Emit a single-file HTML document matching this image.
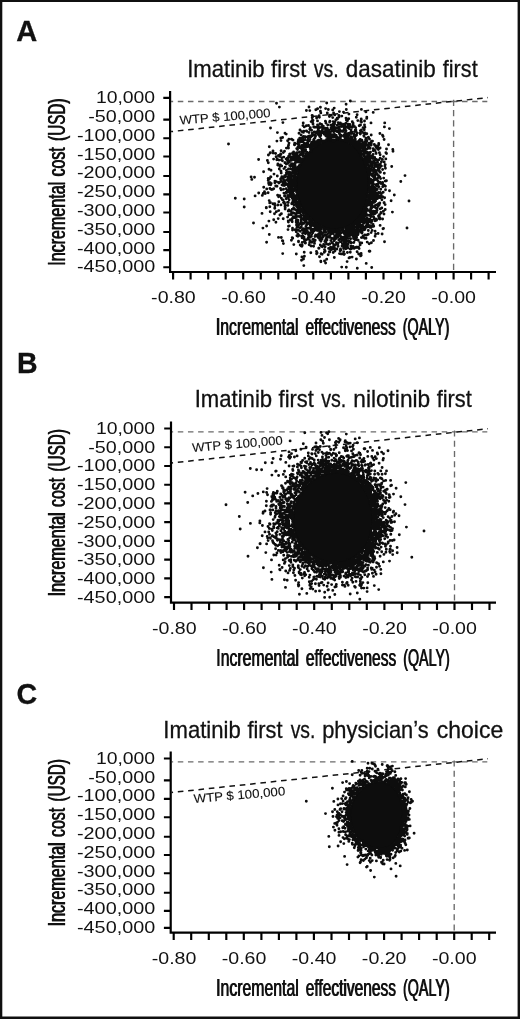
<!DOCTYPE html>
<html><head><meta charset="utf-8"><title>Figure</title>
<style>html,body{margin:0;padding:0;background:#fff}svg{display:block;filter:grayscale(1)}text{fill:#111}</style></head><body>
<svg width="520" height="1019" viewBox="0 0 520 1019">
<rect x="0" y="0" width="520" height="1019" fill="#fff"/>
<text x="16.28" y="41.3" font-family="Liberation Sans, sans-serif" font-weight="bold" font-size="29.4" textLength="20.99" lengthAdjust="spacingAndGlyphs" stroke="#111" stroke-width="0.3">A</text>
<text x="187.16" y="77.3" font-family="Liberation Sans, sans-serif" font-size="23.2" textLength="77.47" lengthAdjust="spacingAndGlyphs" stroke="#111" stroke-width="0.3">Imatinib</text>
<text x="271.09" y="77.3" font-family="Liberation Sans, sans-serif" font-size="23.2" textLength="35.27" lengthAdjust="spacingAndGlyphs" stroke="#111" stroke-width="0.3">first</text>
<text x="313.73" y="77.3" font-family="Liberation Sans, sans-serif" font-size="23.2" textLength="25.06" lengthAdjust="spacingAndGlyphs" stroke="#111" stroke-width="0.3">vs.</text>
<text x="345.86" y="77.3" font-family="Liberation Sans, sans-serif" font-size="23.2" textLength="89.89" lengthAdjust="spacingAndGlyphs" stroke="#111" stroke-width="0.3">dasatinib</text>
<text x="442.79" y="77.3" font-family="Liberation Sans, sans-serif" font-size="23.2" textLength="34.87" lengthAdjust="spacingAndGlyphs" stroke="#111" stroke-width="0.3">first</text>
<path d="M171.1 101.5H487.3" stroke="#6a6a6a" stroke-width="1.35" stroke-dasharray="5.5 4.65" stroke-dashoffset="3.45" fill="none"/>
<path d="M453.6 99.8V271" stroke="#6a6a6a" stroke-width="1.35" stroke-dasharray="6.1 4.15" fill="none"/>
<path d="M171.1 131.6L488 97.6" stroke="#111" stroke-width="1.5" stroke-dasharray="5.6 4.78" stroke-dashoffset="3.62" fill="none"/>
<text transform="translate(180 124.6) rotate(-4.81)" x="-0.06" y="0" font-family="Liberation Sans, sans-serif" font-size="12.4" textLength="91.29" lengthAdjust="spacingAndGlyphs" stroke="#111" stroke-width="0.1">WTP $ 100,000</text>
<path d="M368.4 184.5L368.3 188.4L368 192.3L367.4 196.1L366.6 199.8L365.6 203.4L364.4 206.9L362.9 210.2L361.3 213.3L359.4 216.2L357.4 218.8L355.2 221.2L352.8 223.3L350.2 225.1L347.5 226.6L344.7 227.8L341.7 228.6L338.7 229.1L335.6 229.3L332.4 229.1L329.2 228.6L326 227.8L322.8 226.6L319.7 225.1L316.7 223.3L313.8 221.2L311.1 218.8L308.5 216.2L306.1 213.3L303.9 210.2L301.9 206.9L300.3 203.4L298.9 199.8L297.8 196.1L297 192.3L296.5 188.4L296.3 184.5L296.5 180.6L297 176.7L297.8 172.9L298.9 169.2L300.3 165.6L301.9 162.1L303.9 158.8L306.1 155.7L308.5 152.8L311.1 150.2L313.8 147.8L316.7 145.7L319.7 143.9L322.8 142.4L326 141.2L329.2 140.4L332.4 139.9L335.6 139.7L338.7 139.9L341.7 140.4L344.7 141.2L347.5 142.4L350.2 143.9L352.8 145.7L355.2 147.8L357.4 150.2L359.4 152.8L361.3 155.7L362.9 158.8L364.4 162.1L365.6 165.6L366.6 169.2L367.4 172.9L368 176.7L368.3 180.6Z" fill="#0d0d0d" stroke="#0d0d0d" stroke-width="1.6"/><path d="M276.5 103.3h.01M400.8 181.5h.01M279.4 107.1h.01M389.4 128.6h.01M371.7 267.5h.01M253.5 223h.01M266.6 242.3h.01M384.7 122.9h.01M392.8 149.5h.01M393 151.3h.01M384.4 126.9h.01M384.5 241.7h.01M282.7 253.6h.01M270.5 128h.01M251.1 176.9h.01M262.9 228.1h.01M392.4 212.1h.01M366.2 263.4h.01M303.8 265.6h.01M394.3 195h.01M373.2 112.4h.01M251.8 179.4h.01M357.3 268.2h.01M269.3 234.5h.01M388.5 144.8h.01M254.5 177.3h.01M255.1 195.9h.01M258.6 159.5h.01M350.3 101h.01M391.7 166.5h.01M266.6 226h.01M282.9 122.6h.01M301.5 260.2h.01M262 213.4h.01M391.1 200.8h.01M346.3 267.3h.01M383.1 136.5h.01M309 107h.01M365.9 111.9h.01M382.5 135.3h.01M384.1 139.5h.01M303.5 259h.01M341.7 267.1h.01M382.1 234h.01M283.4 243.6h.01M296.3 254h.01M361.4 109.4h.01M258.7 193h.01M277.4 132.6h.01M278.5 237.4h.01M326.7 103h.01M386.5 149h.01M301.9 256.9h.01M383.5 228.4h.01M369.9 251.2h.01M282.4 240.7h.01M282.8 240.9h.01M306.4 110.5h.01M269.3 146.7h.01M346.1 104.3h.01M383 228.8h.01M268.9 221.1h.01M369.2 251.2h.01M379.9 133.5h.01M386.5 153.5h.01M304.4 256.2h.01M281.3 237.5h.01M309.8 110.6h.01M389.5 190.7h.01M385.9 152.8h.01M262.3 195.4h.01M366.8 117.3h.01M325.6 263h.01M356.4 259h.01M320.4 107.3h.01M320.9 261.7h.01M320.8 261.3h.01M317.6 108.7h.01M360.6 255.9h.01M268.4 155h.01M371 122.9h.01M266.3 207.9h.01M263.6 171.7h.01M347.1 261.6h.01M361.2 255.2h.01M366.7 118.4h.01M263.2 193.5h.01M266.3 207.5h.01M315.8 109.8h.01M270.1 153.1h.01M270.3 152.8h.01M276.9 141.1h.01M324.5 261h.01M267.4 160.5h.01M263.7 187.3h.01M378.1 233.5h.01M385.8 158.9h.01M264.5 191.6h.01M361.1 253.5h.01M373.5 240.5h.01M325.6 108.6h.01M304.2 252.2h.01M293.8 244.6h.01M280.8 138h.01M265.3 193.5h.01M334.2 108.1h.01M273.7 219.7h.01M371.4 242.7h.01M346.3 109.5h.01M270.2 211.7h.01M273 151h.01M268.3 162.7h.01M285 133.3h.01M385.2 209.5h.01M358.7 254h.01M384 214.1h.01M382.6 219h.01M275.9 222.2h.01M352.1 257.1h.01M375.1 236.3h.01M320.4 111.2h.01M326.7 259.3h.01M328.3 109.5h.01M349 257.9h.01M282.6 137.5h.01M380.1 225.4h.01M357.1 114.7h.01M273.1 153h.01M349.8 257.5h.01M369.2 243.8h.01M269.8 206.8h.01M291.4 240.3h.01M286.2 134.1h.01M281 140.6h.01M266.7 188.9h.01M319.5 256.7h.01M332.7 109.9h.01M375.6 234.1h.01M385.2 164.6h.01M385.1 204.6h.01M364.5 121h.01M383.5 156.6h.01M312.1 115.5h.01M386.4 180.7h.01M310.8 252.7h.01M269.7 202.9h.01M385.4 168.2h.01M269 169.2h.01M269.2 200.6h.01M361.2 119h.01M312.4 115.8h.01M384.9 166h.01M384.2 162h.01M383.4 211.2h.01M320.8 112.9h.01M268.1 192.7h.01M378.7 143.5h.01M268.2 178.5h.01M270.3 202.5h.01M361.3 119.7h.01M268.2 180.5h.01M301 245.9h.01M274.5 213.7h.01M343.5 112.1h.01M339.4 111.6h.01M380.1 148h.01M357.1 251.7h.01M334.3 257.5h.01M301.9 246.3h.01M316.6 253.8h.01M300.2 244.9h.01M275.6 153.5h.01M268.6 183.1h.01M312.5 117.1h.01M378.7 144.8h.01M385.5 189.7h.01M273.6 159.1h.01M384.2 202.7h.01M292.2 237.8h.01M356.3 117.3h.01M292.7 238.3h.01M348.9 114.1h.01M269 184.6h.01M375.1 231.3h.01M385.4 186.3h.01M384 202.8h.01M327.3 113h.01M269.5 178.7h.01M312.2 117.8h.01M303.2 122.9h.01M384.6 197.8h.01M302.2 245.3h.01M278.2 218.6h.01M317.1 253h.01M385.2 181.1h.01M367.2 242.1h.01M271 170.2h.01M379.9 219h.01M269.9 188.5h.01M382.4 159.4h.01M322.1 254.2h.01M319.1 115.7h.01M333.6 113h.01M360.8 121.5h.01M298.5 241.8h.01M361.5 122.1h.01M379.8 218.4h.01M270.1 182.7h.01M321.1 253.7h.01M359.1 248.6h.01M272.9 203.8h.01M270.6 176.9h.01M364.5 124.9h.01M384.3 173.2h.01M379.9 217.7h.01M276.1 156.8h.01M298.5 241.3h.01M270.9 176.9h.01M381.1 213h.01M274.7 208.2h.01M344.1 254.5h.01M274.8 208.3h.01M318.7 116.6h.01M270.7 184.7h.01M328.2 254.7h.01M316.5 251.5h.01M276.3 211.8h.01M384.5 185.5h.01M350.3 252.3h.01M380.9 212.4h.01M344.4 253.9h.01M357.8 120.6h.01M377.9 147.3h.01M271.4 189.6h.01M271.2 183.5h.01M316.6 118h.01M381.8 207.9h.01M378.3 148.8h.01M274.9 205.8h.01M319.4 117.3h.01M343 253.8h.01M380.1 154.7h.01M288 229.6h.01M303 125.6h.01M378.4 149.5h.01M312.5 120.1h.01M341 253.9h.01M379.4 152.7h.01M378.7 218.4h.01M358.5 247.2h.01M371.2 135h.01M347.4 252.5h.01M302.2 242.5h.01M383.7 178.1h.01M329.5 115.3h.01M331.4 115.1h.01M334.7 114.9h.01M364.9 127.3h.01M278.5 155.4h.01M274.7 203.6h.01M287.6 140.7h.01M277.1 158.8h.01M288.9 139.2h.01M276.8 159.8h.01M313 120.5h.01M381.4 161.7h.01M339.5 253.6h.01M281.1 150.8h.01M330.1 115.6h.01M379.5 214.7h.01M324.3 252.3h.01M311.1 121.6h.01M338.9 115.5h.01M376.5 146h.01M356.9 247.6h.01M382.6 169.5h.01M312.1 121.3h.01M383.2 192.3h.01M341.8 116.1h.01M272.8 189.3h.01M279.9 215h.01M357.1 247.1h.01M312.4 121.5h.01M360.1 244.9h.01M380.2 158.3h.01M371.1 232.6h.01M382.6 196.7h.01M329.4 116.5h.01M356.3 247.2h.01M378.5 216h.01M274 174.1h.01M354.1 248.4h.01M305.2 243h.01M324.8 251.5h.01M355.4 247.5h.01M372.1 230.4h.01M280.6 153.9h.01M383 184.5h.01M305.5 243h.01M279.5 156.4h.01M300 130h.01M360.5 125h.01M333.2 252.5h.01M376.6 148.1h.01M376.1 147h.01M380.3 208.9h.01M361.7 242.9h.01M325.1 251.3h.01M304.3 126.9h.01M278.7 210.6h.01M381.9 199.8h.01M381.4 166.1h.01M348.7 118.7h.01M311.1 246h.01M273.7 188.8h.01M343.7 251.6h.01M329.8 252h.01M306.4 125.8h.01M363.1 127.6h.01M366 238.3h.01M382.7 186.7h.01M346 118.1h.01M329.3 251.7h.01M280.9 154.5h.01M376.5 220.2h.01M309.2 244.7h.01M339 117h.01M304.3 241.6h.01M283.2 218.7h.01M296.9 235.7h.01M351.4 248.8h.01M288.5 226.3h.01M382.6 182.5h.01M373.7 226.2h.01M297.9 236.2h.01M291.5 139.2h.01M304.6 241.3h.01M350.3 249h.01M374.3 144.4h.01M317.5 120.9h.01M279 160.1h.01M351.7 248.3h.01M298.2 236.1h.01M374.6 145.3h.01M332.7 117.6h.01M380.4 164h.01M372.5 141.1h.01M277.8 205h.01M308.5 125.5h.01M277.9 163.9h.01M313.6 246.2h.01M281.4 213.8h.01M364.2 129.8h.01M289 143.1h.01M351.2 248.2h.01M318.7 248.2h.01M368.3 234.3h.01M319 248.3h.01M277.7 165.1h.01M367.9 234.6h.01M274.9 181.1h.01M292.5 230h.01M312.9 123.5h.01M359.2 125.7h.01M274.9 182.8h.01M289.3 225.9h.01M359.9 242.6h.01M364.7 238.2h.01M334.9 251h.01M381.4 195.9h.01M283.3 152.6h.01M340.1 250.7h.01M324.5 249.6h.01M367.6 234.6h.01M352.3 121.8h.01M347.5 120h.01M337.2 118.3h.01M299 133.3h.01M366.8 133.7h.01M347.3 120.1h.01M372.5 226.4h.01M313 124h.01M340.8 250.2h.01M286.4 148.1h.01M371.6 141.1h.01M284.5 151.2h.01M381.4 193.5h.01M353 246.5h.01M375 220.8h.01M288.6 145.1h.01M299.1 235.4h.01M275.7 186h.01M302.2 237.9h.01M346.3 120.1h.01M375.7 219h.01M330.6 250h.01M378.7 159.9h.01M366.7 235h.01M380.9 196.8h.01M301.8 131.6h.01M297.9 234h.01M373.1 224.5h.01M304.3 239.2h.01M345.8 248.8h.01M293 140.1h.01M348 248.1h.01M292.5 228.2h.01M288.3 146.2h.01M337.4 119h.01M281.8 157.8h.01M347.4 120.8h.01M379.8 203h.01M276.2 181.6h.01M375.3 219.3h.01M309.7 242.4h.01M353.1 123.3h.01M296.2 231.8h.01M379.3 204.7h.01M371.1 227.6h.01M365 132.9h.01M278.8 201.7h.01M379.8 167.5h.01M368.4 137.3h.01M301.7 236.5h.01M369.5 139.1h.01M288.4 222h.01M368.6 137.8h.01M381.1 182.9h.01M376 152.8h.01M277.6 195.2h.01M332 249.2h.01M365.6 133.9h.01M380.4 172.3h.01M335.9 119.7h.01M381 183.6h.01M343.6 248.5h.01M306.5 239.8h.01M303.8 131.2h.01M330 248.9h.01M277.3 176h.01M281.6 160.1h.01M340.5 249h.01M347.7 247.4h.01M350.8 246.1h.01M375 150.5h.01M380.2 197.5h.01M334.3 249.1h.01M277 186.2h.01M295.1 229.8h.01M288.2 221h.01M376.1 153.5h.01M361.4 129.9h.01M336.9 249h.01M379.6 168.1h.01M379.1 203.4h.01M371.1 142.6h.01M371 142.4h.01M380.6 178.6h.01M328.6 248.4h.01M380.7 189.3h.01M325.4 121.3h.01M380 172.2h.01M322.3 246.8h.01M288.5 148.1h.01M279.9 166.4h.01M364.3 133.3h.01M278.6 196.8h.01M380 196h.01M279.3 169h.01M310.3 127.6h.01M362.9 237.2h.01M304.1 237.2h.01M368.3 230.5h.01M364.9 235h.01M280.5 165h.01M331.1 248.3h.01M321.4 246.3h.01M311.9 242.2h.01M296.6 230.5h.01M310.1 241.1h.01M280.9 204.9h.01M303.4 132.4h.01M371.3 143.6h.01M303 236.2h.01M314.5 243.4h.01M380.2 192.5h.01M378.2 206.2h.01M325.6 121.8h.01M283.8 157.1h.01M376.6 212.4h.01M370 227.4h.01M322.5 246.4h.01M374.1 219.2h.01M378.6 165.4h.01M333.5 248.2h.01M282.4 160.8h.01M353.2 125h.01M320 123.6h.01M374 149.7h.01M377.1 210.2h.01M379.5 197.6h.01M329.9 121.2h.01M370.7 225.8h.01M379.4 171.2h.01M378.5 203.6h.01M378.3 204.5h.01M301.1 135h.01M325.1 246.7h.01M377.2 160h.01M379.3 170.8h.01M306.4 130.9h.01M362.6 132.4h.01M317.5 124.9h.01M378.3 164.8h.01M363.1 236h.01M361.4 237.6h.01M331.2 247.5h.01M379.8 177h.01M353 125.5h.01M373.2 148.8h.01M380 182.2h.01M377.2 208.2h.01M358.2 240.2h.01M320.3 244.9h.01M379.2 197.4h.01M344.3 246.6h.01M309.3 239.6h.01M278.5 182.4h.01M346 246.2h.01M377.6 162.6h.01M313.7 127h.01M354.4 126.4h.01M360.4 130.8h.01M330.6 247.2h.01M287.6 217.1h.01M377.4 161.8h.01M309.8 129.2h.01M333.1 121.6h.01M329.6 122h.01M320.9 124.1h.01M371.2 145.1h.01M349.9 124.4h.01M334.4 247.4h.01M279.7 195.8h.01M335.1 121.6h.01M306.8 131.4h.01M353.8 242.5h.01M281.7 165.9h.01M346 123.2h.01M355.6 127.6h.01M278.9 183h.01M325.9 123.1h.01M376.1 210.8h.01M347.4 245.2h.01M375.2 213.6h.01M348.2 124.2h.01M298.4 230.2h.01M377.6 204.5h.01M321.7 124.4h.01M378.3 168.8h.01M310.3 129.7h.01M314.4 241.6h.01M371.9 221.5h.01M314.9 127.3h.01M373.3 150.8h.01M378.8 196h.01M373.7 217.1h.01M376.2 159.5h.01M308.2 237.8h.01M294.7 143.3h.01M342 246.1h.01M299.7 138.1h.01M318.4 125.9h.01M377.9 167.3h.01M281 171.2h.01M281 171.3h.01M290.4 219.8h.01M333.5 246.5h.01M302.6 233.5h.01M369.9 144.3h.01M348 244.3h.01M300.3 231.3h.01M366 138.3h.01M345.5 245.1h.01M351.2 243h.01M338.2 122.7h.01M371.1 222.5h.01M363.8 135.7h.01M338.1 246.2h.01M340.3 123h.01M352.4 126.7h.01M281.3 198.1h.01M378.2 170.4h.01M378.5 195.6h.01M298.5 139.8h.01M316.4 127.1h.01M374.5 213.8h.01M323.6 244.4h.01M369.1 143.2h.01M296.9 227.5h.01M368.9 226h.01M292.2 221.7h.01M291.5 220.6h.01M356.5 239.6h.01M378.7 175.7h.01M364 136.3h.01M285.1 209h.01M294.4 144.7h.01M348.1 125.2h.01M378.9 186.6h.01M281.2 173.1h.01M318.3 126.7h.01M371.8 220.1h.01M376.8 204.9h.01M375.1 211.1h.01M344.9 124.4h.01M282.2 199.6h.01M314 240.2h.01M352.3 127.3h.01M294.7 144.7h.01M344.1 124.3h.01M366.1 139.3h.01M378.5 192.5h.01M344.3 244.7h.01M280.6 178.9h.01M280.5 188.4h.01M378.5 193h.01M298.8 140.2h.01M366.9 140.5h.01M341.6 123.9h.01M312.8 239.4h.01M311.6 130.3h.01M286.1 159h.01M345.5 244.2h.01M367.8 226.8h.01M355 240h.01M280.6 181.7h.01M378.7 187h.01M377.7 170.4h.01M313.9 239.8h.01M291.9 220.1h.01M374.7 157.4h.01M355.8 129.7h.01M300.1 139.4h.01M285.2 207.4h.01M378.6 182.6h.01M350.1 126.7h.01M283.5 202.6h.01M377.5 198.6h.01M298.1 141.5h.01M339.8 124h.01M315.2 240.2h.01M281 180.9h.01M359.9 133.1h.01M284.9 162.8h.01M350.6 242h.01M328.3 244.5h.01M285 162.6h.01M281.2 189.9h.01M288.9 214.8h.01M285 206.3h.01M368.5 225.3h.01M302.9 137.2h.01M309 132.5h.01M350.3 242h.01M356.3 238.6h.01M373.5 214.5h.01M334.6 124h.01M344 125h.01M303.7 136.5h.01M326.3 243.9h.01M366.8 141.3h.01M305.4 233.7h.01M286.7 158.9h.01M373.6 213.8h.01M376.5 165.5h.01M283.2 200h.01M302 138.2h.01M332.9 124.2h.01M375 159.7h.01M333.7 244.8h.01M305.3 233.6h.01M349.2 242.2h.01M310.2 237h.01M319.2 127.4h.01M281.6 177.4h.01M287.3 158.1h.01M296.5 225h.01M327.7 125h.01M342.1 124.8h.01M360.3 134.1h.01M303 137.5h.01M365.6 140h.01M304.2 232.5h.01M335.4 244.7h.01M375.4 207.6h.01M298.4 227h.01M373.9 212.5h.01M281.9 176.8h.01M323.3 126.3h.01M303.6 231.8h.01M373.1 154.4h.01M285.3 205.6h.01M355.2 130.3h.01M289.6 154.2h.01M309.1 236h.01M303.2 137.6h.01M297.9 226.2h.01M284.7 203.7h.01M377.9 177.7h.01M305.7 233.4h.01M321.6 126.9h.01M329.8 244h.01M337.7 244.4h.01M364.9 229.5h.01M297.3 143.6h.01M369.8 221.7h.01M288.7 156.2h.01M284.4 202.5h.01M361.9 233h.01M285.1 204.6h.01M373.3 213.5h.01M370.1 148h.01M344 125.6h.01M342.3 243.7h.01M377.2 197.3h.01M378 183.9h.01M290 154h.01M318.2 128.4h.01M378 184.3h.01M301.6 139.4h.01M283.9 168.6h.01M319.4 128h.01M356.6 237.3h.01M364.7 229.4h.01M377.8 180.7h.01M346.9 126.7h.01M282 184.9h.01M356 131.3h.01M330 243.7h.01M298 225.6h.01M375.4 163.4h.01M364.3 229.7h.01M366 227.4h.01M288.2 211h.01M367.5 225.2h.01M368.3 145.1h.01M320.9 241.3h.01M330.7 125.3h.01M308.4 234.8h.01M355.7 237.7h.01M375.4 205.5h.01M300.1 227.7h.01M288.1 158.3h.01M362.2 232.1h.01M376.7 198.5h.01M292.5 218.3h.01M364.7 229.1h.01M346.3 242.3h.01M370 148.4h.01M341.8 125.7h.01M377.1 173.7h.01M377.7 184.9h.01M375.5 164.2h.01M337.3 125.2h.01M348.7 241.3h.01M377.1 174.5h.01M302.3 229.7h.01M311.4 236.4h.01M305.5 136.7h.01M361.4 232.6h.01M375.9 166.5h.01M345.1 126.6h.01M374.9 162.5h.01M369.1 147.2h.01M362.1 231.8h.01M302.3 139.6h.01M347.8 127.5h.01M325.9 242.4h.01M377.1 193.5h.01M297.8 224.7h.01M373.6 158.2h.01M290.6 214.6h.01M285.2 167.2h.01M353.5 238.6h.01M287.5 160.7h.01M299.9 142.2h.01M338.1 243.3h.01M286.3 164h.01M296.8 223.3h.01M333.9 125.7h.01M344.4 242.2h.01M298.6 225.3h.01M302.6 139.7h.01M366.3 226h.01M377.2 189.5h.01M289.6 156.8h.01M357 133h.01M368.6 146.8h.01M373 212.1h.01M365.4 141.8h.01M306.6 232.6h.01M377.3 184.1h.01M296.2 222.3h.01M346.9 241.4h.01M354.9 131.5h.01M305.8 137.1h.01M367.8 223.4h.01M349.2 128.5h.01M282.9 185.3h.01M373.3 211.1h.01M369.5 220.3h.01M343.6 126.8h.01M371.2 216.6h.01M372.6 156.1h.01M324.8 241.6h.01M366.2 143.3h.01M308.9 234h.01M332.4 126.1h.01M283.4 179h.01M341.5 126.5h.01M283.2 182.2h.01M320 239.9h.01M376 198.7h.01M367.1 224.2h.01M362.2 230.7h.01M374 161.1h.01M291.4 214.7h.01M288.9 209.9h.01M289.4 210.8h.01M323.3 128.1h.01M375.6 200.9h.01M319.8 239.7h.01M332.3 242.7h.01M283.9 193.1h.01M369.8 219.1h.01M346 241.2h.01M283.5 189.3h.01M374.3 206.7h.01M293.2 217.4h.01M376 198.4h.01M314.2 132h.01M322.6 128.4h.01M368 222.3h.01M301.3 141.7h.01M336.4 242.7h.01M354.9 236.8h.01M307.2 232.3h.01M370.7 216.8h.01M357.8 234.7h.01M366 225.6h.01M363.8 228.6h.01M284.5 196h.01M351.1 130h.01M283.5 183.3h.01M346 241h.01M312.3 133.3h.01M283.7 180.2h.01M339.5 126.7h.01M301.3 226.9h.01M284.1 177h.01M305.6 230.8h.01M292.6 153h.01M296.2 221h.01M318.1 130.5h.01M293.3 217h.01M370.5 152.1h.01M374.5 164.2h.01M374.8 165.4h.01M372.9 158.6h.01M288.8 160.6h.01M287.8 163.2h.01M283.8 183.7h.01M376 195.6h.01M293.6 151.9h.01M371 215.4h.01M325.9 241h.01M350.6 238.8h.01M344.2 127.9h.01M375.9 196.2h.01M298.9 145h.01M308.3 136.4h.01M285 195.6h.01M325.1 240.7h.01M345.2 240.8h.01M358.2 233.7h.01M291.5 213.3h.01M317.7 131h.01M325.3 128.3h.01M303.7 228.7h.01M318.4 130.7h.01M366.7 145.3h.01M294.1 217.6h.01M287.9 205.4h.01M354.4 236.5h.01M290.9 156.9h.01M284.7 175.6h.01M368.1 221.1h.01M314.9 236.5h.01M376.5 186.2h.01M297.6 222.1h.01M376 194.2h.01M353.5 237h.01M309.5 135.9h.01M341.1 241.5h.01M315.6 132.2h.01M374.6 166h.01M360.2 231.6h.01M315.2 132.4h.01M304.6 229.2h.01M322.5 129.4h.01M366.2 144.9h.01M375.3 170.2h.01M375.7 172.5h.01M290.7 211.3h.01M365.3 143.7h.01M307.5 231.5h.01M375.8 195.4h.01M340.1 241.5h.01M374.7 201.9h.01M309.6 233h.01M293.9 216.7h.01M284.4 180.4h.01M284.3 185.5h.01M311.7 234.4h.01M294.5 217.6h.01M298 146.8h.01M372.3 158h.01M304.8 229.2h.01M322 239.3h.01M304.9 139.7h.01M374.7 201.6h.01M368.2 220.4h.01M363.8 227.2h.01M370.7 215h.01M296.7 148.6h.01M327.3 128.3h.01M371.6 156.3h.01M319.1 238.1h.01M346.1 239.9h.01M355 235.5h.01M376.1 179.2h.01M286.3 198.8h.01M303 141.7h.01M318.6 237.7h.01M289.7 160.7h.01M286.4 170.5h.01M292.9 154.5h.01M355.6 235h.01M298.8 146.3h.01M287.5 202.4h.01M341.8 240.8h.01M306.5 230.2h.01M345.2 129h.01M374.9 199.3h.01M343.3 240.4h.01M297.8 221.3h.01M364.7 143.6h.01M335.3 127.8h.01M374.3 202.4h.01M319 237.7h.01M318 237.2h.01M353 236.5h.01M352.2 132.1h.01M331 128.1h.01M364.8 143.8h.01M285.4 176.8h.01M296.6 219.6h.01M289.3 162.2h.01M344.8 239.9h.01M375.9 178.8h.01M293.3 154.3h.01M366.4 222.7h.01M375.4 173.6h.01M351.1 131.6h.01M327 240.1h.01M356.6 135.1h.01M371 213.3h.01M346 239.5h.01M361.8 140.1h.01M318.7 131.7h.01M295.4 217.7h.01M293.2 154.6h.01M317.4 132.2h.01M375.9 189.2h.01M321.8 238.6h.01M299.9 223.4h.01M375.1 172.3h.01M337.1 128h.01M311.7 135.5h.01M295 217h.01M348.3 238.6h.01M322.4 130.3h.01M285.2 180.9h.01M373.1 206.4h.01M332.6 128.2h.01M369.5 152.5h.01M285.2 182.5h.01M371.5 157.7h.01M365.1 144.7h.01M286.3 173.1h.01M291 159.4h.01M375.1 196h.01M330.8 240.5h.01M356 234h.01M316.2 235.9h.01M334 240.8h.01M285.2 185.1h.01M375.2 194.8h.01M375.5 192.3h.01M374.7 170.9h.01M286.8 197.8h.01M375.6 179.5h.01M344.2 129.4h.01M371.4 211.5h.01M300.8 224h.01M375.6 190.2h.01M292.6 212.6h.01M327.3 129.2h.01M308.2 138.3h.01M316.7 133h.01M362.1 140.9h.01M313 135.1h.01M369.7 153.5h.01M319.9 131.6h.01M288.3 202.5h.01M333.1 128.5h.01M374.7 198h.01M325.5 129.7h.01M357.2 232.8h.01M333.4 128.5h.01M374.5 198.8h.01M358.5 231.7h.01M297.8 220.2h.01M361.3 228.8h.01M369.5 153.3h.01M286.5 174h.01M321.5 237.9h.01M366.3 221.9h.01M301.4 224.3h.01M320.4 131.6h.01M367.3 148.9h.01M312.1 135.9h.01M375 174.6h.01M331.1 128.8h.01M363.1 142.5h.01M359 230.9h.01M356.2 135.6h.01M286.3 193h.01M375.5 184.8h.01M361.8 227.9h.01M315.6 235h.01M316.9 133.3h.01M374.8 195.7h.01M310.7 137h.01M365.3 145.8h.01M285.7 183.4h.01M367.2 149h.01M326 239.1h.01M297.5 149.6h.01M353.8 134.1h.01M360.2 139.4h.01M286.3 192.1h.01M339.4 129h.01M354 234.8h.01M360.8 229h.01M367.5 219.5h.01M299.3 147.6h.01M369.5 215.1h.01M292.5 157.6h.01M302 224.4h.01M346.2 238.4h.01M353.3 235.1h.01M370.3 155.9h.01M338.8 239.9h.01M321.3 131.6h.01M346.9 238.1h.01M354.3 234.3h.01M373.8 168.2h.01M375 192.4h.01M372.2 161.7h.01M291.4 160.4h.01M372.3 206.8h.01M286.2 188.8h.01M354.4 134.8h.01M286.6 192.7h.01M369.5 154.1h.01M372.4 162.4h.01M346 130.7h.01M334.9 129.1h.01M314.6 135h.01M373.7 168.2h.01M295.8 216.2h.01M291.6 160.3h.01M319.7 236.5h.01M372.6 163.6h.01M294 213.2h.01M366.4 220.7h.01M355.5 233.2h.01M306.4 228.1h.01M312.8 232.8h.01M301.7 145.4h.01M372 207.4h.01M343.6 130.2h.01M371.8 208.1h.01M374.3 196.5h.01M293.9 156h.01M368.6 152.7h.01M288.5 168.9h.01M362.8 143.1h.01M334.6 239.7h.01M356.9 232h.01M295.1 154.2h.01M342.6 238.9h.01M364.5 145.5h.01M357.2 231.7h.01M334.6 239.6h.01M374.7 176.8h.01M334.8 129.5h.01M373.8 169.7h.01M306.7 228.1h.01M287.8 172.5h.01M289.7 165.6h.01M326.4 238.4h.01M345.7 238h.01M368.5 152.8h.01M302.4 223.9h.01M359.2 229.7h.01M311.8 231.8h.01M287.9 196.6h.01M344.9 238.1h.01M307.5 140.4h.01M292.3 209.3h.01M328.8 130.3h.01M351.3 133.6h.01M363.9 145h.01M286.9 179.8h.01M370.3 157.5h.01M317.4 234.9h.01M304.1 143.6h.01M354.7 233.2h.01M322.4 132.1h.01M321.4 132.4h.01M312.5 232h.01M374.8 188.2h.01M372.1 163.2h.01M369.4 155.2h.01M296.6 152.6h.01M335.1 239.2h.01M349.7 236.1h.01M344.2 238.1h.01M319.9 235.9h.01M323.1 237.1h.01M370.1 211.8h.01M360.5 141.1h.01M319.9 133.2h.01M296.8 216.5h.01M367.2 218.3h.01M301.5 146.5h.01M331.8 130.1h.01M288 195.5h.01M287.2 190.5h.01M339.8 130.2h.01M341.7 238.5h.01M359.5 140.2h.01M287.3 190.9h.01M373.3 199.7h.01M289.1 199.8h.01M325.7 131.3h.01M363.1 144.4h.01M372.1 205h.01M304.7 143.4h.01M295.1 213.6h.01M370.9 209.2h.01M300.7 147.7h.01M349.8 235.8h.01M302.5 223.3h.01M339.8 238.7h.01M362.4 225.4h.01M370.5 210.1h.01M326.5 237.8h.01M353.7 233.5h.01M287 184.5h.01M296.1 215h.01M346.5 237.1h.01M365.9 220.1h.01M288.5 197h.01M321.2 132.9h.01M369.9 211.6h.01M364.9 147.3h.01M305.9 226.4h.01M287.2 184.4h.01M364.7 222h.01M331.9 130.4h.01M349.5 133.2h.01M318.1 134.3h.01M303.5 144.9h.01M343.8 237.8h.01M322.1 132.7h.01M309.9 139.4h.01M368.3 153.7h.01M351.6 234.6h.01M362.2 143.6h.01M332.2 238.6h.01M373.1 199.7h.01M374.3 179h.01M347.6 236.4h.01M311.1 230.4h.01M308.3 228.3h.01M319.5 133.9h.01M373.5 171.6h.01M294.1 157.8h.01M341 238.2h.01M363.7 223.3h.01M301.1 221.4h.01M323 236.5h.01M335.2 238.6h.01M340.8 130.8h.01M336 238.6h.01M302.7 146h.01M296.1 214.4h.01M324.3 132.2h.01M290.6 166h.01M373.5 197.2h.01M288 176.5h.01M350 235.2h.01M374.3 189.5h.01M372.3 203.2h.01M338.2 130.6h.01M301.4 147.6h.01M287.7 179.8h.01M366.2 219h.01M362.2 225.1h.01M300.8 148.2h.01M343 131.3h.01M308 141.2h.01M334.1 238.4h.01M365.6 148.9h.01M337.1 130.6h.01M315.6 136h.01M293.7 159.1h.01M356.5 230.8h.01M319.4 234.8h.01M368 215.3h.01M293.5 159.6h.01M288.1 191.6h.01M291.2 164.8h.01M361.9 143.7h.01M297.7 152.6h.01M362.7 144.9h.01M332.5 130.8h.01M340.7 131.1h.01M319.4 134.3h.01M293.4 209h.01M331.7 238.1h.01M363.3 145.7h.01M374 177.8h.01M313 231.2h.01M291.8 163.7h.01M354.8 137h.01M342.1 131.4h.01M366 219h.01M370.6 208.4h.01M327.5 237.3h.01M289.2 171.9h.01M301.4 221.1h.01M288.3 176.6h.01M296 155.4h.01M365.5 149.2h.01M353.8 136.4h.01M370 158.9h.01M348.3 133.4h.01M288.2 178h.01M342.3 237.5h.01M367.1 152.2h.01M364.1 222h.01M373 198.1h.01M344.1 237h.01M308.2 141.5h.01M371.1 206.3h.01M374 188.5h.01M372 165.9h.01M350.7 234.3h.01M360.2 226.9h.01M352.7 233.1h.01M334.8 131h.01M369.1 157h.01M318.6 234h.01M325.8 132.4h.01M318.7 135h.01M290.4 168.6h.01M326.7 236.8h.01M288.5 191.6h.01M365.8 218.9h.01M309.4 140.8h.01M294 159.7h.01M333.4 131.2h.01M335 131.1h.01M297.2 154.1h.01M365.2 219.8h.01M370 159.6h.01M329.8 237.4h.01M345.1 132.6h.01M289.1 174.3h.01M301 220h.01M288.7 176.9h.01M336.9 131.2h.01M363.3 146.4h.01M369.7 159.1h.01M291.7 203.7h.01M304.2 223.3h.01M365.1 149.3h.01M341.9 237.1h.01M356.2 230.3h.01M307.1 142.9h.01M331 131.6h.01M368.2 155.3h.01M365.8 218.5h.01M296.2 156h.01M310.6 228.9h.01M364 147.6h.01M373.8 187.1h.01M372 201.6h.01M372.5 169.5h.01M293.6 208h.01M288.4 186.5h.01M346.9 235.6h.01M328.9 237h.01M327.3 132.3h.01M288.6 190.1h.01M298.5 216.4h.01M335.2 237.6h.01M288.5 181.6h.01M372.8 197h.01M310.3 228.5h.01M289.5 173.5h.01M349.2 134.5h.01M294.9 158.6h.01M345.5 133h.01M291.9 203.5h.01M373.6 180.5h.01M350.6 233.7h.01M334 131.6h.01M345.2 236h.01M312 229.6h.01M348.4 134.2h.01M355.3 230.7h.01M365.1 149.7h.01M360.8 143.7h.01M367.1 153.3h.01M305.2 145.1h.01M314.1 230.9h.01M337.3 131.7h.01M360.9 225.2h.01M294.5 209.3h.01M373.4 190.7h.01M307.9 142.6h.01M370.1 161.2h.01M346.8 235.3h.01M320.8 134.7h.01M371.6 166.7h.01M371.5 202.9h.01M337.3 237.2h.01M348.9 134.6h.01M315 137.7h.01M310 228h.01M330 132.2h.01M370.6 163h.01M346.6 133.7h.01M288.7 184.1h.01M333.8 131.8h.01M366 151.7h.01M289.3 192.4h.01M306.6 225h.01M292.4 165h.01M371.6 202.2h.01M289 189.4h.01M288.8 182.7h.01M322 234.5h.01M299.6 152h.01M288.9 187.3h.01M337.6 237h.01M365 150.1h.01M349.2 234.1h.01M334.6 237h.01M303.3 147.6h.01M357.9 228h.01M373 193.4h.01M354.6 230.8h.01M357 228.7h.01M368.6 157.6h.01M366.8 153.5h.01M372 169.5h.01M363.8 148.3h.01M301.4 219.2h.01M292.1 202.7h.01M291.2 169.1h.01M373.2 189.7h.01M356.8 228.9h.01M369.7 160.9h.01M367.6 155.4h.01M289.4 178.3h.01M325.8 235.5h.01M369.2 159.4h.01M344.9 133.5h.01M324.6 235.2h.01M372.6 173.6h.01M290.3 173.1h.01M290.5 172.7h.01M327.1 133.3h.01M359.4 142.9h.01M296.2 157.9h.01M290.2 195h.01M348.3 234.1h.01M304.5 146.7h.01M358.7 142.2h.01M292.7 203.5h.01M373.2 183.4h.01M329.3 236.1h.01M325.9 235.3h.01M371 165.8h.01M297.1 156.5h.01M348.6 135.1h.01M372.7 176.2h.01M290.7 196.5h.01M355.3 139.3h.01M371.9 170.4h.01M324.3 134.2h.01M295.6 159.3h.01M303.4 148h.01M320.7 135.6h.01M366.1 152.7h.01M326.5 235.4h.01M290.3 194.7h.01M329.8 236.1h.01M289.7 190.4h.01M347.8 234.1h.01M300.5 217.3h.01M360.1 144h.01M296.9 212h.01M359.1 226.1h.01M292.7 166h.01M372.5 194.6h.01M314.3 230h.01M357.9 141.7h.01M371.8 198.5h.01M289.7 178.9h.01M326.2 133.8h.01M303.2 148.5h.01M289.5 183.1h.01M345.8 234.7h.01M369.4 161.1h.01M307.7 144h.01M314.1 139.2h.01M296.4 158.2h.01M373 187.1h.01M349.5 233.1h.01M340.3 236h.01M289.6 186.1h.01M302.1 219.1h.01M290.7 173.4h.01M305.4 146.3h.01M371.7 170.2h.01M372.1 196.3h.01M290.3 192.4h.01M313.4 229.1h.01M305.6 146.2h.01M302 218.9h.01M289.9 189.5h.01M319.7 136.4h.01M291.1 196.7h.01M293.8 164h.01M325.7 134.2h.01M303.3 148.8h.01M351 136.8h.01M289.9 188.4h.01M319.7 232.5h.01M366.1 215.5h.01M296.2 210h.01M372.8 187.9h.01M368 158h.01M372.8 183.9h.01M368.3 210.4h.01M297.5 156.8h.01M339.4 133.2h.01M313.6 140h.01M290.4 192h.01M328.7 133.7h.01M367.5 156.9h.01M294 205.1h.01M362.4 221.4h.01M372.6 190.1h.01M298.2 213.1h.01M366.4 214.6h.01M363.6 149.4h.01M372.3 175.7h.01M290.4 177.3h.01M357.4 227.1h.01M302.2 150.5h.01M302.8 149.7h.01M348.9 233h.01M363.2 148.8h.01M290.2 189.4h.01M330.2 133.5h.01M370.6 202.3h.01M372.6 180.4h.01M296.1 159.9h.01M346.6 135.1h.01M290.5 177.8h.01M352.4 230.9h.01M336.2 235.8h.01M304.9 221.5h.01M353 230.5h.01M361.8 221.9h.01M371.9 195.5h.01M320.1 136.7h.01M358.9 143.6h.01M364.2 218.3h.01M363.5 149.5h.01M326.7 134.4h.01M349.7 232.4h.01M368.6 160h.01M300.7 216.4h.01M327.6 134.2h.01M372.6 181.8h.01M290.3 180.9h.01M363.2 219.8h.01M297.1 158.2h.01M322.1 233.1h.01M329.1 133.9h.01M337.5 235.6h.01M368.4 159.7h.01M372.6 185h.01M350.6 137.2h.01M372.6 184h.01M321.6 232.8h.01M290.9 176.1h.01M349.7 232.3h.01M346.6 135.4h.01M334.7 235.6h.01M307.7 223.9h.01M305.7 147h.01M317.2 230.6h.01M362.2 221.1h.01M351.7 137.9h.01M364.6 151.7h.01M311.1 226.6h.01M344.6 134.8h.01M339.4 133.7h.01M360.9 146.3h.01M298.4 156.5h.01M293 200.7h.01M364.2 217.8h.01M293.6 202.4h.01M338.5 235.3h.01M358.9 225h.01M344.5 234.1h.01M350.7 231.5h.01M335.6 235.4h.01M290.9 178h.01M304.3 220.3h.01M314.9 229.1h.01M360.1 145.4h.01M291.4 174.9h.01M316.6 230.1h.01M295.8 161.4h.01M352.7 230.2h.01M292.4 198.4h.01M371 169.9h.01M290.9 189.9h.01M347 233.1h.01M305.1 220.9h.01M298.6 212.5h.01M372.3 182.1h.01M348.5 232.4h.01M298.6 156.6h.01M319.7 231.6h.01M293.4 167.6h.01M295.4 162.7h.01M372.2 188h.01M339.9 234.9h.01M370.8 169.5h.01M310.3 225.6h.01M346.7 135.8h.01M350.6 231.3h.01M352 230.5h.01M356.6 142h.01M312 142.1h.01M327.6 134.8h.01M372.2 182.7h.01M290.9 179.8h.01M345.1 135.4h.01M295.1 163.6h.01M371.6 174.6h.01M369.4 204.9h.01M306.9 222.5h.01M290.8 186.9h.01M290.9 188.7h.01M372.1 187.4h.01M297.6 210.5h.01M322.9 232.7h.01M366.6 156.4h.01M306.6 146.8h.01M372.2 185.6h.01M353 139.4h.01M291.6 175.4h.01M304 149.7h.01M294.9 164.3h.01M345.9 135.8h.01M290.9 183.9h.01M327.9 134.9h.01M315.4 228.9h.01M292.6 197.6h.01M344 135.2h.01M371.8 190.9h.01M329.6 134.6h.01M291 186.6h.01M302.1 152.1h.01M290.9 183.6h.01M369.6 203.9h.01M364.8 215.9h.01M352.9 139.4h.01M359.7 145.6h.01M337.8 234.8h.01M356.5 226.7h.01M300.7 214.9h.01M293 170h.01M345.8 233.1h.01M300.1 155h.01M291.2 189h.01M347.1 232.6h.01M369.7 165.8h.01M291.4 190h.01M358.2 224.9h.01M351.5 230.3h.01M367.8 160h.01M320.7 231.5h.01M371.5 193h.01M349 231.7h.01M334.4 134.3h.01M347 136.4h.01M353.9 228.7h.01M345.2 135.8h.01M320.1 231.2h.01M308.8 145.2h.01M326.3 135.6h.01M292.8 171.4h.01M356.1 226.8h.01M329.7 134.8h.01M361.5 220.8h.01M330.6 134.7h.01M360 146.2h.01M366 213.2h.01M312.8 142.2h.01M355.4 141.6h.01M328.7 135.1h.01M292.8 171.9h.01M363.1 218.4h.01M351.6 138.9h.01M355.7 227h.01M298 210.2h.01M311.4 143.2h.01M330.7 234.2h.01M293.1 170.8h.01M300.7 154.5h.01M305.9 220.8h.01M316.1 228.9h.01M333.6 134.5h.01M338.1 234.4h.01M323.6 232.4h.01M367 158.4h.01M371.5 191.6h.01M359.4 223.2h.01M368.4 162.4h.01M308.6 223.3h.01M361 147.8h.01M298.4 158.4h.01M368.9 205.1h.01M348 137.2h.01M315.1 228.1h.01M328 233.6h.01M292.8 172.8h.01M354.1 228.2h.01M292 192.3h.01M317.7 229.6h.01M364.2 216.2h.01M354.7 141.4h.01M310.4 224.7h.01M332.7 134.7h.01M351.6 139.1h.01M307.8 146.5h.01M314.4 141.4h.01M361.3 220.7h.01M302.8 152h.01M295.1 165.5h.01M341.1 135.2h.01M348.6 231.4h.01M291.5 183.7h.01M371 194.8h.01M326.8 135.8h.01M303.6 217.9h.01M294.1 168.4h.01M291.5 184.8h.01M328.1 135.5h.01M325.9 136.1h.01M357.5 225h.01M363.9 216.6h.01M351.3 139.1h.01M353.1 228.7h.01M311.7 143.5h.01M346.6 136.8h.01M292.6 194.6h.01M294.3 167.9h.01M366.1 156.9h.01M296.5 206.4h.01M357.8 144.4h.01M300 212.8h.01M354.4 227.6h.01M319.5 230.3h.01M324.3 232.3h.01M355.8 226.5h.01M291.7 185.8h.01M310 144.9h.01M347.1 231.9h.01M366.7 210.6h.01M318.6 229.8h.01M369.7 201.1h.01M299 158.1h.01M369.3 166.1h.01M314.5 141.6h.01M366.3 157.6h.01M292.6 193.8h.01M311.7 225.4h.01M363.9 152.7h.01M292.4 176.2h.01M332.2 135.1h.01M354.4 227.5h.01M370.8 174h.01M304.8 150.2h.01M330.2 135.4h.01M296.9 206.8h.01M338.3 233.9h.01M365 214.1h.01M294.4 200.5h.01M340.1 135.3h.01M291.9 186.3h.01M297 162h.01M370 199.4h.01M367.2 208.9h.01M366 211.8h.01M309.2 145.9h.01M360.7 148.1h.01M310.6 224.2h.01M292.6 192.6h.01M354.9 226.9h.01M310.2 145.1h.01M294 170.2h.01M311.4 144.1h.01M331.6 233.6h.01M349 230.7h.01M344.2 136.4h.01M325.7 232.3h.01M371.3 180.7h.01M370.2 171.5h.01M293.5 196.6h.01M336.6 233.8h.01M305.6 149.7h.01M333.3 135.3h.01M343.5 136.3h.01M352.5 228.6h.01M362.9 151.6h.01M295.7 203.5h.01M370.7 194.1h.01M292.8 176.3h.01M303.3 152.4h.01M361.9 219h.01M371.2 187.8h.01M369.8 169.6h.01M332.8 233.6h.01M329.7 135.8h.01M293.8 197.5h.01M292.8 192.9h.01M297.7 161.3h.01M366.9 159.8h.01M371 191.1h.01M335 135.3h.01M340.7 233.2h.01M349.3 230.3h.01M353.4 141.2h.01M309.3 146.2h.01M329.5 135.9h.01M295.9 203.7h.01M310 145.6h.01M370.1 171.3h.01M293 193.4h.01M336.3 135.4h.01M293.5 173h.01M360.4 220.8h.01M333.2 233.5h.01M359.9 221.4h.01M364.3 154.3h.01M366.5 159h.01M299.7 211.2h.01M312.4 225.3h.01M292.5 188.8h.01M339.5 233.3h.01M353.9 227.3h.01M371 179.4h.01M361.9 150.4h.01M352.1 140.4h.01M337.9 233.4h.01M299.4 210.5h.01M297.8 207.6h.01M370.1 197.2h.01M293.1 175.8h.01M305 150.7h.01M304.6 217.8h.01M317.8 140.4h.01M369.4 168.6h.01M313.9 142.9h.01M309.6 222.8h.01M299 209.5h.01M333.8 135.7h.01M362.8 217h.01M346.7 231.2h.01M351.1 229h.01M343.1 232.4h.01M292.5 184.9h.01M357.6 223.7h.01M368.9 166.8h.01M332.5 135.8h.01M294.4 198.4h.01M359.9 148h.01M345.1 137.3h.01M292.8 179.4h.01M293.5 194.1h.01M340.3 232.9h.01M361.7 218.5h.01M351.4 140.3h.01M300 157.9h.01M360.3 148.6h.01M370.6 192.6h.01M333.3 233.2h.01M355.3 143.2h.01M367.7 163.1h.01M292.6 184.9h.01M370.9 182.5h.01M350.9 228.9h.01M349.2 139.1h.01M370.9 188.1h.01M344.9 231.7h.01M329.8 136.4h.01M309.4 222.2h.01M367.6 163h.01M352.1 140.9h.01M369.7 171.4h.01M356.7 144.6h.01M333.1 233h.01M292.7 186h.01M368.5 203.2h.01M296.6 204h.01M304.2 216.7h.01M292.8 181.6h.01M366.8 160.8h.01M327.9 136.8h.01M310.6 145.8h.01M311 223.5h.01M320.3 229.5h.01M357.2 145.2h.01M313.7 143.4h.01M306.4 219.2h.01M349.8 139.6h.01M359.5 221.2h.01M318.8 140.3h.01M303.3 215.4h.01M314 225.8h.01M340.6 136.4h.01M370.7 188.2h.01M346 137.9h.01M366.6 160.4h.01M358 146.1h.01M321 139.3h.01M365.8 210.4h.01M368.7 167.1h.01M367.1 162h.01M325.1 231.2h.01M295.8 167.4h.01M306 218.6h.01M294.7 197.8h.01M365.5 211h.01M316.5 227.2h.01M316.9 141.5h.01M368.2 165.3h.01M352.6 141.5h.01M370.7 181.3h.01M340.4 232.5h.01M295.9 201.7h.01M298.6 207.8h.01M294.6 171.8h.01M360.3 149.1h.01M338.8 232.7h.01M311.5 223.6h.01M312.9 224.7h.01M369.3 170.3h.01M302.7 154.6h.01M295.6 200.5h.01M369.9 173.6h.01M299.7 159.2h.01M370.1 194.3h.01M357.7 222.9h.01M365.4 157.9h.01M298.7 161.3h.01M357.2 145.6h.01M365.3 211.1h.01M320.5 229.2h.01M345.4 138h.01M368.9 168.5h.01M316.1 226.8h.01M330 136.8h.01M368.5 167.1h.01M310.5 146.4h.01M358 222.4h.01M353.2 142.2h.01M293.2 184h.01M345.7 138.2h.01M339.9 232.3h.01M303.8 215.5h.01M333.7 136.5h.01M346.7 230.4h.01M353.5 142.5h.01M350.7 140.6h.01M348.4 229.6h.01M328.9 137.1h.01M357.7 146.4h.01M359.4 148.4h.01M296.2 167.4h.01M293.3 185.3h.01M329.5 231.9h.01M364.2 156h.01M361.7 151.6h.01M299.3 208.3h.01M305.2 217h.01M328.6 137.3h.01M293.7 191h.01M354.4 225.6h.01M368.3 167.2h.01M311.8 145.6h.01M295.1 197.6h.01M346.5 138.7h.01M366 208.8h.01M305.8 217.6h.01M300.4 159h.01M299.4 160.8h.01M368.2 202h.01M364.1 212.9h.01M329 137.4h.01M295.1 197.1h.01M299.6 208.6h.01M361.3 217.7h.01M300.2 209.5h.01M319.9 140.6h.01M360.4 219h.01M296.6 201.9h.01M330.7 231.9h.01M296.8 202.3h.01M338.9 232.1h.01M353.8 225.9h.01M363.5 214h.01M348 139.5h.01M318.6 141.3h.01M353.1 226.4h.01M327.7 137.7h.01M368.2 201.9h.01M369.5 195.4h.01M343.1 231.2h.01M293.9 178.5h.01M367.1 205.4h.01M318.9 227.9h.01M295.1 172.1h.01M316.4 226.4h.01M301.4 211.3h.01M323.8 230h.01M368.5 200.5h.01M293.8 180.6h.01M360.8 150.7h.01M368.5 200.2h.01M336.3 136.9h.01M295.4 171.2h.01M299.7 160.6h.01M369.9 191.7h.01M334.6 136.9h.01M349.9 140.7h.01M320.1 228.3h.01M302.8 155.7h.01M349.7 228.5h.01M314.7 143.8h.01M293.9 189h.01M296.3 200.3h.01M335.5 232.1h.01M330.9 137.3h.01M365.3 159h.01M328.4 231.2h.01M370 189.5h.01M366.7 206.1h.01M321.2 228.8h.01M344 230.8h.01M368.5 168.9h.01M307.7 219.1h.01M293.8 181.9h.01M350.6 141.2h.01M317.1 142.4h.01M345.9 138.9h.01M358.2 147.7h.01M296.6 168.1h.01M293.9 185.9h.01M296.2 169.4h.01M295.2 196h.01M315.4 225.4h.01M299 206.6h.01M333.6 137.2h.01M362.2 215.8h.01M310.1 147.8h.01M370 180.6h.01M352.8 142.8h.01M369.1 196.6h.01M299.2 162.2h.01M368.3 200.3h.01M303.1 213.4h.01M347 139.5h.01M295 174h.01M294.5 176.8h.01M362.7 214.7h.01M293.9 185.3h.01M296.9 167.7h.01M328.6 231.1h.01M359.3 219.8h.01M359.9 219.1h.01M329.3 231.2h.01M295.2 173.4h.01M309.7 220.8h.01M368.8 197.5h.01M345.8 229.9h.01M317.1 226.3h.01M338.5 231.6h.01M294.6 176.7h.01M295.8 197.6h.01M301.9 211.3h.01M370 183.6h.01M345.8 139.2h.01M364 212.2h.01M295.4 173h.01M368.6 170.7h.01M365.9 207.6h.01M311.7 146.6h.01M296.3 199h.01M331.7 137.6h.01M368.8 172h.01M301.2 210h.01M356.3 146h.01M367 204.4h.01M294.8 176.7h.01M369.2 174.5h.01M365.2 159.6h.01M366.7 163.8h.01M338.4 137.6h.01M320.2 141.2h.01M314.2 224.2h.01M340.5 137.9h.01M294.5 179.2h.01M302.9 212.5h.01M315.8 225.3h.01M349.9 141.2h.01M351.6 142.3h.01M315.3 144.1h.01M364.5 158.3h.01M314.4 144.7h.01M310 220.7h.01M335.4 231.5h.01M296.6 199.4h.01M335.1 231.5h.01M339.1 231.2h.01M306.5 217h.01M365.8 207.5h.01M350 227.6h.01M316.3 143.5h.01M368.3 169.8h.01M337.6 137.7h.01M354.9 223.9h.01M337.2 137.7h.01M300 207.5h.01M331.8 231.1h.01M335.8 137.6h.01M369.6 179.8h.01M364.4 210.7h.01M369.8 183.3h.01M305.9 216.2h.01M297.2 168.1h.01M295.3 175.2h.01M296.6 169.8h.01M369.2 175.6h.01M300.9 209h.01M314.4 224h.01M329 230.6h.01M303.3 156.3h.01M298.5 204.2h.01M366.3 205.9h.01M369.6 180.5h.01M294.5 182.9h.01M338.7 231.1h.01M359.2 149.8h.01M369.6 188.5h.01M309 219.5h.01M369.6 187.6h.01M316.8 225.5h.01M307.2 217.5h.01M366.6 204.9h.01M312 222.1h.01M318.1 226.3h.01M365.2 160.5h.01M296.2 197.1h.01M351.6 226.3h.01M306.7 152.1h.01M357.3 221.4h.01M347.3 140.3h.01M346 139.8h.01M360.2 217.7h.01M369.6 186.6h.01M311.9 147.1h.01M294.9 179.3h.01M336.4 231.1h.01M362.1 154.3h.01M348.4 228.1h.01M294.7 187.7h.01M368.3 198.1h.01M310.4 220.6h.01M354.8 145.3h.01M328.3 138.7h.01M306.1 216.1h.01M368.9 174.9h.01M332 230.9h.01M363.7 211.7h.01M359.4 218.8h.01M296 173.2h.01M339.4 138.2h.01M295.8 173.7h.01M355.8 222.8h.01M294.7 185.1h.01M330.6 138.4h.01M359.5 150.5h.01M348.9 227.8h.01M313 222.6h.01M352.4 225.5h.01M344.8 139.5h.01M362.3 214.1h.01M369.1 192.1h.01M319.2 142.4h.01M331.1 230.6h.01M347.5 228.3h.01M355.6 146.2h.01M302 158.9h.01M310.9 220.7h.01M347.1 228.5h.01M332.8 230.8h.01M369.2 178.8h.01M354.3 223.9h.01M295 189.3h.01M305.7 153.7h.01M341.6 230.3h.01M356 222.3h.01M329.9 230.3h.01M325.3 229.2h.01M295.2 190h.01M298.1 167.1h.01M349.7 141.9h.01M360.6 216.7h.01M326.6 139.5h.01M369.1 177.4h.01M320.6 227.2h.01M296.7 171.3h.01M352.5 143.8h.01M300.5 161.8h.01M352.5 225.2h.01M338.5 230.6h.01M338.6 138.4h.01M369.3 182.1h.01M301.5 208.9h.01M308.7 218.4h.01M313.3 146.5h.01M310 219.6h.01M359.1 218.6h.01M295.4 178.4h.01M298.7 202.9h.01M353.3 144.6h.01M295.3 179.5h.01M365.9 205.5h.01M323.9 228.4h.01M314.9 223.6h.01M313.6 222.6h.01M296.6 196.5h.01M298.4 166.7h.01M327.5 229.6h.01M297.9 168h.01M336.1 230.6h.01M295.1 185.8h.01M365.4 162.1h.01M368.5 174.2h.01M364 210.1h.01M321.9 141.5h.01M337.1 138.5h.01M367.4 200.1h.01M369 189.9h.01M322.7 141.2h.01M310.5 149.2h.01M297.1 198.1h.01M350.6 226.2h.01M358.3 149.7h.01M311.7 148.1h.01M345.8 228.6h.01M306.1 215.2h.01M317.8 143.7h.01M330.1 229.9h.01M297.3 170.6h.01M300.5 162.6h.01M305.8 214.6h.01M337.5 230.3h.01M297.3 198.4h.01M300.1 205.5h.01M339 138.8h.01M361 215.4h.01M323.8 140.9h.01M369.1 186h.01M364.2 209.3h.01M362.7 212.5h.01M358 219.4h.01M349.4 142.3h.01M331 139.1h.01M295.5 180.9h.01M328 229.3h.01M300.6 206.3h.01M366.8 201.8h.01M304.8 155.8h.01M346.9 141.1h.01M359.3 151.4h.01M366 204.2h.01M320.3 226.4h.01M302.2 209.1h.01M350.9 143.4h.01M360.2 152.7h.01M299.4 165.5h.01M296.7 173.7h.01M355.4 147h.01M304.5 212.5h.01M364 159.6h.01M368.9 185.3h.01M296 178.1h.01M296.1 177.2h.01M318.7 225.4h.01M303.3 210.6h.01M334.2 230h.01M357 148.8h.01M353.5 223.6h.01M301.6 161.2h.01M295.7 182.4h.01M299.6 203.6h.01M363.4 158.6h.01M342.3 229.2h.01M357.2 219.9h.01M330.1 139.5h.01M366.7 167.7h.01M356.5 220.7h.01M367.6 171.8h.01M325.4 140.8h.01M338.6 229.8h.01M367.8 196.2h.01M299.7 165.4h.01M349.3 226.3h.01M307.8 216.3h.01M319.9 143.2h.01M347.4 227.2h.01M296.9 194.7h.01M315.4 146h.01M342.4 228.9h.01M331.8 229.5h.01M317.4 224.2h.01M361.4 155.3h.01M296.5 192h.01M342.8 228.7h.01M327 228.4h.01M312.1 220.2h.01M355.1 221.7h.01M296.1 184.5h.01M303.6 158.9h.01M341.5 140.1h.01M342.6 140.4h.01M299.1 201.2h.01M308.1 153.1h.01M323 226.8h.01M364.9 163.3h.01M298.4 198.7h.01M365.5 165.1h.01M345.2 141.4h.01M316.5 146h.01M365.6 166.1h.01M363.9 207.5h.01M361.2 156.3h.01M339.9 228.4h.01M311 151.2h.01M332.9 140.7h.01M367.2 193.9h.01M334.7 140.8h.01M361.5 157.8h.01M228.5 144h.01M235.3 198.2h.01M244.2 199h.01M244.2 207h.01M405 175.6h.01M409 201h.01M407 228h.01" stroke="#0d0d0d" stroke-width="2.9" stroke-linecap="round" fill="none"/>
<path d="M170.1 90.9V272H496" stroke="#000" stroke-width="2.2" fill="none" stroke-linejoin="miter"/>
<path d="M170.1 97.8h-6.8M170.1 119.6h-6.8M170.1 138.2h-6.8M170.1 156.5h-6.8M170.1 176h-6.8M170.1 194.3h-6.8M170.1 212.5h-6.8M170.1 232h-6.8M170.1 250.1h-6.8M170.1 267.2h-6.8M173.1 272v7.4M190.6 272v7.4M208.2 272v7.4M225.7 272v7.4M243.2 272v7.4M260.8 272v7.4M278.3 272v7.4M295.8 272v7.4M313.3 272v7.4M330.9 272v7.4M348.4 272v7.4M365.9 272v7.4M383.5 272v7.4M401 272v7.4M418.5 272v7.4M436.1 272v7.4M453.6 272v7.4M471.1 272v7.4M488.6 272v7.4" stroke="#000" stroke-width="2.15" fill="none"/>
<text x="95.92" y="103.1" font-family="Liberation Sans, sans-serif" font-size="17.1" textLength="59.23" lengthAdjust="spacingAndGlyphs">10,000</text>
<text x="88.32" y="121.9" font-family="Liberation Sans, sans-serif" font-size="17.1" textLength="66.85" lengthAdjust="spacingAndGlyphs">-50,000</text>
<text x="77.02" y="140.7" font-family="Liberation Sans, sans-serif" font-size="17.1" textLength="78.15" lengthAdjust="spacingAndGlyphs">-100,000</text>
<text x="77.02" y="159.5" font-family="Liberation Sans, sans-serif" font-size="17.1" textLength="78.15" lengthAdjust="spacingAndGlyphs">-150,000</text>
<text x="77.02" y="178.3" font-family="Liberation Sans, sans-serif" font-size="17.1" textLength="78.15" lengthAdjust="spacingAndGlyphs">-200,000</text>
<text x="77.02" y="197.1" font-family="Liberation Sans, sans-serif" font-size="17.1" textLength="78.15" lengthAdjust="spacingAndGlyphs">-250,000</text>
<text x="77.02" y="215.9" font-family="Liberation Sans, sans-serif" font-size="17.1" textLength="78.15" lengthAdjust="spacingAndGlyphs">-300,000</text>
<text x="77.02" y="234.7" font-family="Liberation Sans, sans-serif" font-size="17.1" textLength="78.15" lengthAdjust="spacingAndGlyphs">-350,000</text>
<text x="77.02" y="253.5" font-family="Liberation Sans, sans-serif" font-size="17.1" textLength="78.15" lengthAdjust="spacingAndGlyphs">-400,000</text>
<text x="77.02" y="272.3" font-family="Liberation Sans, sans-serif" font-size="17.1" textLength="78.15" lengthAdjust="spacingAndGlyphs">-450,000</text>
<text x="151.13" y="303.3" font-family="Liberation Sans, sans-serif" font-size="17.1" textLength="44.64" lengthAdjust="spacingAndGlyphs">-0.80</text>
<text x="221.18" y="303.3" font-family="Liberation Sans, sans-serif" font-size="17.1" textLength="44.64" lengthAdjust="spacingAndGlyphs">-0.60</text>
<text x="291.23" y="303.3" font-family="Liberation Sans, sans-serif" font-size="17.1" textLength="44.64" lengthAdjust="spacingAndGlyphs">-0.40</text>
<text x="361.28" y="303.3" font-family="Liberation Sans, sans-serif" font-size="17.1" textLength="44.64" lengthAdjust="spacingAndGlyphs">-0.20</text>
<text x="431.33" y="303.3" font-family="Liberation Sans, sans-serif" font-size="17.1" textLength="44.64" lengthAdjust="spacingAndGlyphs">-0.00</text>
<text x="215.54" y="335.1" font-family="Liberation Sans, sans-serif" font-size="24" textLength="82.62" lengthAdjust="spacingAndGlyphs" stroke="#111" stroke-width="0.2">Incremental</text>
<text x="216.14" y="335.1" font-family="Liberation Sans, sans-serif" font-size="24" textLength="82.62" lengthAdjust="spacingAndGlyphs" stroke="#111" stroke-width="0.2">Incremental</text>
<text x="305.14" y="335.1" font-family="Liberation Sans, sans-serif" font-size="24" textLength="90.32" lengthAdjust="spacingAndGlyphs" stroke="#111" stroke-width="0.2">effectiveness</text>
<text x="305.74" y="335.1" font-family="Liberation Sans, sans-serif" font-size="24" textLength="90.32" lengthAdjust="spacingAndGlyphs" stroke="#111" stroke-width="0.2">effectiveness</text>
<text x="402.43" y="335.1" font-family="Liberation Sans, sans-serif" font-size="24" textLength="46.63" lengthAdjust="spacingAndGlyphs" stroke="#111" stroke-width="0.2">(QALY)</text>
<text x="403.03" y="335.1" font-family="Liberation Sans, sans-serif" font-size="24" textLength="46.63" lengthAdjust="spacingAndGlyphs" stroke="#111" stroke-width="0.2">(QALY)</text>
<text transform="translate(64.6 264.6) rotate(-90)" x="-1.48" y="0" font-family="Liberation Sans, sans-serif" font-size="24" textLength="84.06" lengthAdjust="spacingAndGlyphs" stroke="#111" stroke-width="0.2">Incremental</text>
<text transform="translate(64.6 264.6) rotate(-90)" x="-0.88" y="0" font-family="Liberation Sans, sans-serif" font-size="24" textLength="84.06" lengthAdjust="spacingAndGlyphs" stroke="#111" stroke-width="0.2">Incremental</text>
<text transform="translate(64.6 176) rotate(-90)" x="-0.67" y="0" font-family="Liberation Sans, sans-serif" font-size="24" textLength="29.09" lengthAdjust="spacingAndGlyphs" stroke="#111" stroke-width="0.2">cost</text>
<text transform="translate(64.6 176) rotate(-90)" x="-0.07" y="0" font-family="Liberation Sans, sans-serif" font-size="24" textLength="29.09" lengthAdjust="spacingAndGlyphs" stroke="#111" stroke-width="0.2">cost</text>
<text transform="translate(64.6 140.2) rotate(-90)" x="-0.94" y="0" font-family="Liberation Sans, sans-serif" font-size="24" textLength="42.29" lengthAdjust="spacingAndGlyphs" stroke="#111" stroke-width="0.2">(USD)</text>
<text transform="translate(64.6 140.2) rotate(-90)" x="-0.34" y="0" font-family="Liberation Sans, sans-serif" font-size="24" textLength="42.29" lengthAdjust="spacingAndGlyphs" stroke="#111" stroke-width="0.2">(USD)</text>
<text x="16.89" y="373.1" font-family="Liberation Sans, sans-serif" font-weight="bold" font-size="29.4" textLength="20.6" lengthAdjust="spacingAndGlyphs" stroke="#111" stroke-width="0.3">B</text>
<text x="194.66" y="407.3" font-family="Liberation Sans, sans-serif" font-size="23.2" textLength="77.47" lengthAdjust="spacingAndGlyphs" stroke="#111" stroke-width="0.3">Imatinib</text>
<text x="278.59" y="407.3" font-family="Liberation Sans, sans-serif" font-size="23.2" textLength="35.27" lengthAdjust="spacingAndGlyphs" stroke="#111" stroke-width="0.3">first</text>
<text x="321.23" y="407.3" font-family="Liberation Sans, sans-serif" font-size="23.2" textLength="25.06" lengthAdjust="spacingAndGlyphs" stroke="#111" stroke-width="0.3">vs.</text>
<text x="353.29" y="407.3" font-family="Liberation Sans, sans-serif" font-size="23.2" textLength="76.86" lengthAdjust="spacingAndGlyphs" stroke="#111" stroke-width="0.3">nilotinib</text>
<text x="436.69" y="407.3" font-family="Liberation Sans, sans-serif" font-size="23.2" textLength="35.17" lengthAdjust="spacingAndGlyphs" stroke="#111" stroke-width="0.3">first</text>
<path d="M172 431.8H487.3" stroke="#6a6a6a" stroke-width="1.35" stroke-dasharray="5.5 4.65" stroke-dashoffset="4.35" fill="none"/>
<path d="M454.5 430.5V601.6" stroke="#6a6a6a" stroke-width="1.35" stroke-dasharray="6.1 4.15" fill="none"/>
<path d="M172 462.9L488 428.7" stroke="#111" stroke-width="1.5" stroke-dasharray="5.6 4.78" stroke-dashoffset="4.52" fill="none"/>
<text transform="translate(192.5 452) rotate(-4.89)" x="-0.06" y="0" font-family="Liberation Sans, sans-serif" font-size="12.4" textLength="90.9" lengthAdjust="spacingAndGlyphs" stroke="#111" stroke-width="0.1">WTP $ 100,000</text>
<path d="M372.4 519.2L372.2 523.1L371.8 527L371.2 530.7L370.3 534.4L369.2 537.9L367.8 541.3L366.2 544.5L364.3 547.5L362.2 550.2L360 552.8L357.5 555L354.8 557L351.9 558.7L348.9 560.1L345.8 561.2L342.5 562L339.2 562.5L335.8 562.7L332.3 562.5L328.8 562L325.3 561.2L321.9 560.1L318.5 558.7L315.2 557L312.1 555L309.1 552.8L306.3 550.2L303.7 547.5L301.4 544.5L299.3 541.3L297.5 537.9L296 534.4L294.8 530.7L293.9 527L293.4 523.1L293.3 519.2L293.4 515.3L293.9 511.3L294.8 507.5L296 503.6L297.5 499.9L299.3 496.3L301.4 492.9L303.7 489.7L306.3 486.6L309.1 483.9L312.1 481.3L315.2 479.1L318.5 477.2L321.9 475.6L325.3 474.3L328.8 473.4L332.3 472.9L335.8 472.7L339.2 472.9L342.5 473.4L345.8 474.3L348.9 475.6L351.9 477.2L354.8 479.1L357.5 481.3L360 483.9L362.2 486.6L364.3 489.7L366.2 492.9L367.8 496.3L369.2 499.9L370.3 503.6L371.2 507.5L371.8 511.3L372.2 515.3Z" fill="#0d0d0d" stroke="#0d0d0d" stroke-width="1.6"/><path d="M406.4 527.1h.01M248 556.3h.01M239.3 516.5h.01M405 504.6h.01M245.1 492.3h.01M388 450.7h.01M256.6 469.8h.01M378.7 589.6h.01M271.9 579.4h.01M359.8 599.3h.01M265.3 462.8h.01M285.5 587.4h.01M400.8 496.7h.01M263.4 567.8h.01M247.7 502.5h.01M261.6 469.7h.01M299.4 594.2h.01M290.1 440.9h.01M304.8 432.8h.01M397.2 552.7h.01M379.3 447.7h.01M383.5 453.8h.01M273.1 458.5h.01M271.2 572.1h.01M381.6 452.1h.01M252.7 495.9h.01M367.1 591.6h.01M397.1 547.5h.01M399.3 534.8h.01M250.4 523.4h.01M272 462.7h.01M306.8 593.4h.01M374.3 585.6h.01M396.1 488.3h.01M324.6 597.4h.01M257.4 547.7h.01M383.4 458.4h.01M399 515.8h.01M329.7 597.2h.01M321 432.4h.01M284.4 579.7h.01M281.2 455.8h.01M328.9 431.8h.01M357.3 593h.01M383 460h.01M257.9 493.5h.01M392.7 554.6h.01M301.9 588.8h.01M326.5 432.8h.01M367.1 587.9h.01M287.2 580.3h.01M359.4 437.9h.01M377.3 453h.01M389.5 561.1h.01M350.2 594h.01M346.3 434.1h.01M377.7 454.1h.01M280.5 459.3h.01M327.7 433.7h.01M298.5 586.1h.01M289 451.9h.01M322 435.4h.01M260 543.7h.01M392.6 550.7h.01M363.8 588.1h.01M380.9 573.7h.01M370.3 447.4h.01M260.2 543.8h.01M298.8 585.3h.01M334.8 594.5h.01M390.6 480.4h.01M298.3 584.7h.01M386.5 470.9h.01M303.3 443.7h.01M372.5 450.4h.01M315.6 591.2h.01M355.2 438.9h.01M391.5 485.2h.01M361.5 588h.01M265.8 552.6h.01M393.5 494.1h.01M395.9 513.8h.01M394.1 540h.01M324.7 592.3h.01M310.2 588.6h.01M280 569.9h.01M279.7 569.5h.01M324.5 437.5h.01M312.8 589.1h.01M271.9 475.1h.01M271.5 559.9h.01M263.3 491.9h.01M291.5 453.6h.01M319.5 590.9h.01M289.4 455.5h.01M390.7 485.7h.01M295.8 450.7h.01M390.1 552.4h.01M298.6 582.6h.01M288.6 456.9h.01M367.8 582.7h.01M275.7 471.2h.01M375.2 456.8h.01M276.2 471.1h.01M320.8 439.8h.01M380.8 569.4h.01M376.4 458.6h.01M295.6 580.2h.01M357.2 442.7h.01M385.4 473.8h.01M394.7 515.2h.01M389.7 551.6h.01M259.8 522.9h.01M382.1 467.5h.01M394.5 521.7h.01M390.2 549.3h.01M360.7 586h.01M259.9 520.9h.01M338.6 438.4h.01M300.9 449.3h.01M392.3 540.5h.01M262.2 535.7h.01M379.1 463.3h.01M376.1 574.2h.01M311.2 586.8h.01M290.6 457h.01M389.9 549.4h.01M267.1 488.6h.01M373.5 576.4h.01M289.7 458.3h.01M364.9 448.7h.01M390.5 546.2h.01M306.1 447.1h.01M361.5 584.7h.01M328 590.1h.01M279.2 565.2h.01M285.8 462.4h.01M329.4 439.7h.01M340.1 439.6h.01M332.8 590.4h.01M393.6 511.2h.01M316 443h.01M355.3 587.2h.01M322.7 441.1h.01M359.7 585.3h.01M364.1 448.7h.01M367.6 451.5h.01M309.8 585.3h.01M285.7 571h.01M328.4 589.8h.01M288 572.9h.01M266.6 492.4h.01M345.3 440.7h.01M282.1 567.5h.01M393.2 512.3h.01M266.6 543.9h.01M339.9 440.4h.01M383.3 561.9h.01M371.8 456.5h.01M262.4 525.5h.01M354.6 586.4h.01M362.9 582.6h.01M310 584.4h.01M372.9 458.2h.01M350.2 443.1h.01M346.4 442.1h.01M392.5 528.6h.01M345 441.8h.01M360.4 583.6h.01M263 513.3h.01M263.2 511.9h.01M294.4 457h.01M374 460h.01M385.7 480.4h.01M392.1 530.2h.01M348.7 443.2h.01M336.3 441.5h.01M267.5 494.8h.01M273.8 555h.01M392 530.5h.01M375.1 572h.01M379.5 566.3h.01M323.3 443.3h.01M380.8 470.9h.01M353.1 445.2h.01M297.1 455.9h.01M390.1 540.4h.01M294.9 575.5h.01M265 531.9h.01M338.7 442.3h.01M390 497.2h.01M335.4 442.4h.01M389.4 495.3h.01M278.6 475.5h.01M382.1 474.3h.01M266.4 501.3h.01M311.7 583.6h.01M391.9 522.2h.01M391.9 516.5h.01M390.8 534.4h.01M319.1 585.6h.01M390.8 534.3h.01M389.1 494.8h.01M314.8 446.9h.01M265 511h.01M268.1 540.6h.01M316.2 446.6h.01M372.4 573.3h.01M385.9 552.3h.01M289.6 570.4h.01M267.2 536.4h.01M267.7 538.1h.01M309.3 581.8h.01M266.3 505.8h.01M387.2 489.2h.01M390.7 530.8h.01M276.1 555.1h.01M352.6 446.6h.01M389.2 497.6h.01M344.9 586.4h.01M334.9 587h.01M293.4 572.8h.01M315.4 583.8h.01M367.8 456.4h.01M360.3 581.3h.01M327.1 586.3h.01M302.3 578.1h.01M391.1 520.3h.01M386.3 549.3h.01M367.5 576.5h.01M391 522.6h.01M388.1 543h.01M374.3 570.1h.01M320.3 446.5h.01M348.2 585.2h.01M312.5 449.4h.01M335.7 444.3h.01M336.2 586.5h.01M318.1 447.4h.01M388.2 542h.01M376.5 567.2h.01M383.6 480.9h.01M390.5 527.4h.01M289.1 466h.01M383.9 554.4h.01M317.6 447.8h.01M323.7 585.1h.01M378.6 564h.01M284.5 471.3h.01M350 446.9h.01M390.6 520.7h.01M390.1 509.8h.01M284.4 563.4h.01M318.8 583.7h.01M344.3 585.3h.01M390.4 521h.01M373.7 464.6h.01M346.1 446.3h.01M388.8 501.2h.01M368.6 574.4h.01M311.7 581.1h.01M381.9 478.7h.01M378.2 563.6h.01M290.3 568.4h.01M342.4 585.1h.01M276.9 552.9h.01M389.5 530.3h.01M308.3 453h.01M283.3 474.4h.01M353.4 449.3h.01M316.7 449.4h.01M270.2 537.8h.01M268.7 532h.01M270.4 538.3h.01M356 581.4h.01M389.9 518.2h.01M268 526.5h.01M360.8 578.9h.01M386.3 544.6h.01M269.5 534.2h.01M329.2 446.6h.01M385.5 489.9h.01M352.8 582.2h.01M271.8 496.4h.01M273.4 492.5h.01M359 452.8h.01M359.8 453.3h.01M331.6 584.6h.01M293.8 570h.01M346.7 447.8h.01M300.5 574.6h.01M272.9 494.3h.01M315.9 450.5h.01M283.2 559.9h.01M386.2 493.5h.01M275.6 548.7h.01M301.4 574.9h.01M336.3 584.5h.01M378.5 474.2h.01M347.1 583.3h.01M385.4 546.3h.01M370.7 463.1h.01M380.4 478h.01M388.8 508.5h.01M387.6 537.2h.01M360.1 578.6h.01M285.1 561.7h.01M321.2 582.7h.01M346.6 583.3h.01M272.1 497.6h.01M289.3 565.6h.01M388.7 509.3h.01M343.5 447.7h.01M269.3 528.5h.01M388.9 526.3h.01M299.2 573.1h.01M377.8 473.4h.01M273 542.2h.01M385.6 492.4h.01M370.5 463.3h.01M272.5 540.8h.01M361.9 577.3h.01M319.5 449.8h.01M273.5 543.1h.01M360.5 454.7h.01M273.7 543.3h.01M371.9 465.2h.01M335.9 447.4h.01M371.7 569.4h.01M292.9 466.1h.01M322 582.5h.01M271.4 501.4h.01M273.8 494.5h.01M300.8 573.7h.01M304.6 575.7h.01M313.3 579.6h.01M311.7 453.6h.01M364.8 574.8h.01M269.5 523.7h.01M372.2 568.3h.01M270 509.9h.01M301.1 573.5h.01M376.6 562.7h.01M345.4 448.9h.01M347.1 582.4h.01M293.9 466h.01M272.3 500.2h.01M270.8 506.2h.01M351.5 450.9h.01M328.1 583h.01M270.2 509.9h.01M346.7 449.4h.01M381.7 483.1h.01M299.1 572h.01M385.1 544h.01M386.6 500.1h.01M275.2 544.5h.01M383.1 487.1h.01M278.3 550.4h.01M371.5 466h.01M312 454h.01M270 524.3h.01M308.3 456h.01M380.1 556.3h.01M363.9 458.5h.01M304.7 458.3h.01M275.8 545.2h.01M274 496.8h.01M309.2 577.2h.01M385.9 497.7h.01M272.3 535.7h.01M294.5 568.3h.01M271.7 505.2h.01M374.8 471h.01M388.1 516.7h.01M270.6 512.8h.01M292.8 566.6h.01M273.5 499.2h.01M270.6 514.2h.01M314 578.8h.01M342.4 582.3h.01M387.5 529.5h.01M347.5 450.6h.01M371.2 568h.01M330.6 449.3h.01M276 493.1h.01M297.5 464.3h.01M381.4 484.2h.01M381.7 551.7h.01M272 506.3h.01M315.1 453.6h.01M316.4 579.3h.01M302.6 460.5h.01M318.3 452.5h.01M305.7 574.8h.01M383.7 491.2h.01M285.7 476.9h.01M280.9 552.6h.01M387.7 522.2h.01M274.7 497.3h.01M304.1 573.9h.01M279.7 550.6h.01M351.5 580h.01M357.2 455h.01M285.5 558.6h.01M271.8 529.3h.01M333.9 449.5h.01M330.7 449.8h.01M277.3 491.3h.01M387.6 521.4h.01M280.9 552.1h.01M300.9 462.2h.01M386.4 534.6h.01M345.3 450.7h.01M387.2 510.8h.01M274.8 497.9h.01M272.8 505h.01M272.3 530.5h.01M292.7 469.5h.01M273.9 536.7h.01M276.9 493.1h.01M277.7 545.8h.01M387.2 524h.01M321.9 452.1h.01M368.1 464.4h.01M283.7 555.2h.01M357.7 576.8h.01M352.8 453.7h.01M385.7 535.9h.01M368.4 464.9h.01M364.6 461.2h.01M292.8 564.9h.01M381.6 487.1h.01M301.5 462.7h.01M273.5 505h.01M360.4 575.1h.01M280.7 550.4h.01M367.6 569.8h.01M385.6 503h.01M281.4 551.3h.01M292.9 470.5h.01M272.8 509.9h.01M304.6 572.9h.01M359.7 458h.01M355.3 455.4h.01M313.8 577.1h.01M310.2 457.6h.01M384.7 538.8h.01M386.8 523h.01M366.2 570.8h.01M281.5 485.8h.01M356.3 576.9h.01M362 459.9h.01M385.1 501.4h.01M289.2 560.5h.01M290.9 562.3h.01M314.3 577h.01M304.5 572.4h.01M299.5 465h.01M275.6 538h.01M297.4 466.9h.01M386.4 526.7h.01M309.9 575.1h.01M364.9 571.4h.01M380.5 485.9h.01M374.6 474.3h.01M385.4 533.7h.01M300.3 569.6h.01M275.9 499.6h.01M355.3 576.8h.01M377.7 479.9h.01M385.7 531.6h.01M369 467h.01M352.1 578.1h.01M385.8 530.2h.01M364.7 571.3h.01M382.9 543.5h.01M384.9 502.3h.01M354.2 455.8h.01M282.9 551.8h.01M282 486.4h.01M363.4 572.1h.01M309.1 459.2h.01M273.6 526.4h.01M380.9 488.1h.01M363.3 461.8h.01M290.2 475.1h.01M323.2 453.5h.01M273.2 519.6h.01M273.7 527h.01M326.9 452.7h.01M386.2 520.2h.01M324.7 579.3h.01M316.3 455.9h.01M273.9 527.7h.01M371.4 470.6h.01M282.2 486.7h.01M298.5 567.7h.01M276.2 537.1h.01M369.2 468h.01M277.4 540.2h.01M305.5 461.9h.01M379.2 484.6h.01M362.3 461.4h.01M334.7 580.1h.01M287.6 557.3h.01M273.7 523.7h.01M298.2 567.1h.01M367.6 568.1h.01M291.5 474.1h.01M373.1 562h.01M323.1 578.6h.01M373.2 561.9h.01M325.8 453.4h.01M385.7 512.2h.01M279.5 544.6h.01M383 496.2h.01M385.5 528.5h.01M385.2 507.6h.01M312 458.4h.01M385.4 528.2h.01M354.1 456.6h.01M381.1 547.1h.01M339.2 452.7h.01M290.7 560.2h.01M365.5 464.7h.01M277.4 538.9h.01M283.4 550.8h.01M382.7 495.8h.01M375.8 478.5h.01M329.4 453.2h.01M312.3 458.6h.01M307 461.6h.01M276.7 501.4h.01M368.4 468.1h.01M374 560.1h.01M384.7 532.1h.01M275.9 533h.01M383.6 500.2h.01M317 576.3h.01M282.5 488.1h.01M283.4 550.4h.01M376.2 479.6h.01M358.2 574h.01M373.7 560.4h.01M290.8 559.7h.01M276.5 534.9h.01M382.1 542.9h.01M285.5 483.3h.01M361.2 461.6h.01M327.9 453.8h.01M374.8 558.5h.01M320.3 577.1h.01M376.1 479.7h.01M301.1 466.3h.01M318.6 576.6h.01M333.3 453.3h.01M276 506.5h.01M361.7 462.2h.01M333.1 579.1h.01M385.1 513.9h.01M365 465.2h.01M287.5 555.5h.01M283.1 487.9h.01M281.9 547h.01M352.5 456.9h.01M275.2 512.8h.01M382 495.5h.01M306.6 462.8h.01M375.5 479.1h.01M358.3 573.4h.01M298.3 565.7h.01M274.9 517.3h.01M380.4 490.4h.01M287.5 481.3h.01M276 508.2h.01M379.3 549.3h.01M292 475.8h.01M327.2 578.1h.01M339.3 578.6h.01M275.3 524.1h.01M369.9 471.1h.01M290.2 478h.01M275.3 515.6h.01M293.1 474.6h.01M278.1 500.6h.01M348.4 455.8h.01M280.7 493.9h.01M335.6 453.9h.01M361.7 571h.01M330.8 578.4h.01M278.2 500.7h.01M384.7 525.4h.01M275.9 511.1h.01M348 577.1h.01M382.3 497.8h.01M345.9 577.5h.01M332.4 578.4h.01M368.7 469.9h.01M384.1 530.4h.01M368.4 565.3h.01M280.2 542.1h.01M278.2 501.1h.01M281.5 544.8h.01M347.4 455.8h.01M376 481.4h.01M325.1 577.3h.01M326 455.4h.01M298.4 470h.01M289 555.7h.01M377.3 552.4h.01M351 457.4h.01M288.1 482h.01M382.9 535.7h.01M279.9 497.3h.01M361.9 570.3h.01M353.2 574.9h.01M355.7 573.8h.01M277.2 531.7h.01M380.5 492.9h.01M331.3 454.8h.01M301.4 467.8h.01M279.8 539.7h.01M276.2 513.9h.01M348 456.5h.01M350.6 575.7h.01M357.1 460.6h.01M373.8 478h.01M327.7 577.4h.01M282.9 546.3h.01M346.7 456.2h.01M384 527.5h.01M384.2 524.3h.01M285.8 550.9h.01M333.5 577.9h.01M371.8 560.6h.01M322.4 576.2h.01M308.4 570.9h.01M314.2 460h.01M290.3 479.6h.01M383.3 532.2h.01M328.1 577.3h.01M374.4 556.8h.01M322.4 456.9h.01M356.3 460.4h.01M384.2 522.1h.01M377.2 485h.01M283.7 490h.01M331.6 455.2h.01M384.1 523.2h.01M370.2 562.3h.01M304.4 466.1h.01M287.2 552.4h.01M276.6 522.8h.01M355 573.6h.01M382.8 504h.01M289.1 481.7h.01M340.4 577.3h.01M383.6 527.6h.01M277.2 527.9h.01M336.6 455.3h.01M284.3 547.6h.01M330.5 577.2h.01M294.3 560.2h.01M358.2 462.1h.01M379.8 492.5h.01M359.1 571.2h.01M310.5 462.5h.01M278.7 504.1h.01M370.3 473.9h.01M373.4 557.5h.01M349 457.7h.01M284.3 490h.01M302 566.3h.01M295.8 561.3h.01M320.6 575.1h.01M346.9 575.9h.01M360.4 570.2h.01M291.5 479.3h.01M295.6 561h.01M372.8 558h.01M285.6 548.9h.01M282.4 543h.01M361.6 465.1h.01M282 495.5h.01M373.3 557.3h.01M363 568.2h.01M367.9 471.4h.01M279.1 504.1h.01M277.4 513.6h.01M319.4 574.5h.01M291.3 556.4h.01M350.4 574.7h.01M297.8 472.6h.01M382.1 535.2h.01M379.5 544.5h.01M283.7 492h.01M378 548.4h.01M334.7 577h.01M304.2 567.4h.01M336.3 456h.01M299.1 471.5h.01M282.2 495.4h.01M297.4 473.1h.01M352.9 573.8h.01M383.3 512.2h.01M369.2 473.1h.01M348.3 575.3h.01M284 545.8h.01M279.8 502.2h.01M339 576.8h.01M277.9 511h.01M344 576.1h.01M293.6 477.4h.01M290.3 481.5h.01M341.3 456.5h.01M307.2 569h.01M358.7 570.8h.01M377.1 486.8h.01M281.5 540.1h.01M283.5 544.4h.01M376.6 485.7h.01M378 489.3h.01M310.4 463.5h.01M278.3 528.4h.01M280.9 499.6h.01M362.1 466.1h.01M308.9 464.5h.01M279.4 505.1h.01M379.9 542.5h.01M284.8 490.7h.01M342.8 457h.01M365 566h.01M278.2 527.3h.01M364.6 566.3h.01M383.3 517.6h.01M286.7 549.5h.01M380.7 539.5h.01M279.9 534.4h.01M306 466.6h.01M378.9 544.8h.01M318.2 460.1h.01M328.7 457.2h.01M352.2 573.5h.01M326.5 457.6h.01M366 470.1h.01M277.9 520.3h.01M278.1 523.3h.01M365.6 565.2h.01M379.4 494.4h.01M297.8 473.7h.01M358.4 463.7h.01M279.9 504.3h.01M365.9 564.8h.01M349.5 574.3h.01M314.6 572h.01M382.1 531.7h.01M284.1 493h.01M305.1 467.6h.01M340.5 576h.01M278.7 510.7h.01M299.3 472.4h.01M354.2 461.3h.01M373.2 480.2h.01M285.5 546.9h.01M280.3 503.4h.01M335.8 576.2h.01M380 496.9h.01M366.9 471.5h.01M349.6 574.1h.01M378 490.8h.01M381.8 505.4h.01M368.9 561.5h.01M378.5 545h.01M294.2 477.9h.01M284.5 544.5h.01M320.6 573.8h.01M376.3 486.9h.01M381.9 506.3h.01M352.5 572.9h.01M375.2 484.6h.01M278.4 520.7h.01M382.5 526.6h.01M352.1 460.7h.01M343.7 458h.01M367.6 472.7h.01M283.2 496.1h.01M330.4 575.6h.01M329.2 575.4h.01M278.6 521.6h.01M380.2 498.8h.01M377.2 489.4h.01M316.5 572.2h.01M326.5 574.9h.01M314.2 462.8h.01M380.7 536.7h.01M280.9 503.3h.01M293.3 556.5h.01M365.4 470.6h.01M322.7 459.5h.01M335.2 575.6h.01M382.3 526.4h.01M375 484.7h.01M290.3 483.8h.01M293.8 556.8h.01M359.6 568.9h.01M283.1 497.3h.01M382.4 515.1h.01M302.6 564.5h.01M279.2 513.3h.01M359.2 569h.01M305.3 468.5h.01M382.2 512.7h.01M280.9 504.5h.01M363.4 566h.01M382.3 523.4h.01M280.5 506.3h.01M324.3 574.1h.01M370.4 477.2h.01M282.5 538.3h.01M382.1 511.5h.01M279.4 525.8h.01M293.1 555.7h.01M321.2 460.3h.01M333 575.3h.01M365.3 470.9h.01M382.3 523.1h.01M280.2 507.9h.01M360.9 567.7h.01M380.9 534.6h.01M382.2 524.1h.01M354.7 571.2h.01M378.4 493.9h.01M313.8 570.6h.01M282.3 500.2h.01M381.5 530.9h.01M379.3 540.7h.01M287.6 488.8h.01M289.7 551.4h.01M366.2 472h.01M283.6 540.8h.01M339.7 458.2h.01M362.5 468.4h.01M286.9 490.1h.01M297.5 560h.01M370.8 478.2h.01M313 464h.01M325.6 459.3h.01M379.6 539.5h.01M348.1 460h.01M334.1 458.1h.01M381.4 507.8h.01M279.5 524.6h.01M279.3 516.6h.01M358.1 465.1h.01M288.7 487.3h.01M381.2 506.5h.01M313.2 570.1h.01M282.2 536.4h.01M372.8 554.7h.01M358.8 465.7h.01M381 505.7h.01M368.4 475.1h.01M305.4 565.7h.01M379.3 497.7h.01M311.8 465h.01M345.7 573.9h.01M356.9 569.7h.01M379.2 497.5h.01M290.6 552h.01M371.7 556.1h.01M331.5 574.7h.01M381.3 508h.01M368.5 560.2h.01M279.7 516.4h.01M280.9 530.8h.01M290 551h.01M369.4 559.1h.01M300.2 561.8h.01M293.5 555.3h.01M292.2 482.7h.01M302.9 471.4h.01M285.2 494.7h.01M297.1 477h.01M381.5 511.5h.01M378.3 495.3h.01M293.5 555.2h.01M287.6 547.2h.01M372 555.4h.01M280.4 511.9h.01M329.9 574.3h.01M376.1 547.7h.01M362.8 565.5h.01M280.1 514.4h.01M340 574.4h.01M287.5 546.8h.01M279.9 519.9h.01M307.4 566.5h.01M317 571.1h.01M371.2 479.9h.01M285.7 494.1h.01M325.4 573.5h.01M381.7 522.3h.01M280.2 524.1h.01M381.7 515.9h.01M339.2 459h.01M381.3 510.3h.01M367.8 475.1h.01M368.7 559.5h.01M325.7 460.1h.01M311.9 568.8h.01M299.7 560.8h.01M381.1 509.9h.01M380.2 534.5h.01M319.4 571.8h.01M314.5 464.3h.01M300.5 561.4h.01M296.7 478h.01M361.1 468.4h.01M348.6 572.5h.01M366.9 561.3h.01M323.8 460.8h.01M284.8 496.7h.01M281 510h.01M290 550.1h.01M377.9 495h.01M345.7 573.2h.01M282.7 503h.01M351.4 462.4h.01M290 549.9h.01M282.9 535.8h.01M321.7 572.3h.01M292.5 483.3h.01M373.8 551.6h.01M377.6 494.4h.01M380.3 533.1h.01M301.5 473.4h.01M380.8 529.5h.01M381 527.6h.01M296 479.1h.01M381.2 513.2h.01M345.9 573.1h.01M295.1 556h.01M335.8 574.2h.01M329.5 573.7h.01M337.6 574.1h.01M285.9 542.7h.01M356.8 568.8h.01M367.3 560.6h.01M306.5 469.6h.01M315.3 464.3h.01M319.2 462.7h.01M295.5 556.3h.01M292.5 483.7h.01M371.5 481.3h.01M378.7 539h.01M303 562.9h.01M370.2 479.2h.01M347.6 461.3h.01M282.4 532.9h.01M375.4 548h.01M318.4 463h.01M289.1 548h.01M290.6 486.6h.01M325.5 460.8h.01M356 569.1h.01M283.5 536.2h.01M320.7 462.3h.01M309.7 467.7h.01M372.6 553.1h.01M308 566h.01M310 467.5h.01M282.3 506.4h.01M353.8 570.1h.01M355.5 465h.01M362.6 470.4h.01M335.7 459.6h.01M286.7 543.6h.01M282.1 507h.01M300.2 475.3h.01M286 542.1h.01M298.2 558.7h.01M300.3 560.5h.01M329.5 573.4h.01M280.9 517h.01M361.8 565.2h.01M328.7 573.3h.01M379 537.1h.01M289.3 547.9h.01M304.2 471.9h.01M292.5 552.3h.01M380.7 511.7h.01M281.6 527.6h.01M381.1 519.6h.01M339.5 460h.01M303.7 472.4h.01M367.3 475.8h.01M338.2 573.6h.01M378.6 538.1h.01M380 506.6h.01M361.8 470h.01M289.7 489.1h.01M376.8 543.6h.01M291 486.9h.01M288.1 491.9h.01M348 571.8h.01M370.7 555.4h.01M378.9 536.7h.01M341.4 460.5h.01M342.3 460.6h.01M296.2 556.1h.01M353.2 569.9h.01M379.6 533.4h.01M376.4 492.9h.01M331.8 460.3h.01M318.6 570.5h.01M282 528.2h.01M311 467.5h.01M360.5 469.2h.01M348.8 571.5h.01M351.4 463.5h.01M375.3 546.9h.01M336.2 460.2h.01M317.3 569.9h.01M327.5 461.1h.01M362.3 564.2h.01M287.7 493.1h.01M336.8 573.3h.01M365.9 560.9h.01M378.9 535.8h.01M282.3 509.9h.01M321.1 463h.01M323 462.3h.01M329.3 572.8h.01M315.4 465.4h.01M293.4 484.2h.01M284.1 502.5h.01M294.9 554.3h.01M377.5 497.2h.01M320 570.6h.01M283.4 533.1h.01M343.9 461.3h.01M328.1 572.5h.01M353.4 464.8h.01M282.4 509.7h.01M281.6 519.4h.01M300.9 560h.01M335.8 460.6h.01M316.2 569.1h.01M328.8 461.2h.01M291 549.1h.01M361 470.2h.01M355.1 568.5h.01M322.2 571.1h.01M337 573h.01M376.2 543.8h.01M380.3 525h.01M372.8 551.1h.01M368.9 479.2h.01M318.1 569.7h.01M344.5 461.8h.01M295.6 554.5h.01M282 515.7h.01M292.5 486h.01M361.4 564.3h.01M325 571.6h.01M380.3 522.6h.01M282 520.4h.01M379.3 532.3h.01M285.7 499.2h.01M353.3 465.2h.01M373.1 550.3h.01M354 568.8h.01M296.6 480.8h.01M334.4 461h.01M284.3 534.4h.01M291 488.7h.01M290.8 489h.01M296.2 555h.01M311.9 566.8h.01M310.1 469.1h.01M370.9 553.8h.01M292.6 550.6h.01M322.6 463.1h.01M320.3 464h.01M282.4 513.7h.01M284.4 534.4h.01M282.2 522.2h.01M380.1 513.7h.01M298.8 557.5h.01M363.2 472.7h.01M336 461.1h.01M283 528.1h.01M368.2 557.4h.01M325.4 571.5h.01M321.5 570.5h.01M282.4 515.2h.01M361.8 563.8h.01M374.8 546.5h.01M344.2 462.1h.01M289.4 545.4h.01M340.8 572.2h.01M376.8 496.5h.01M343.8 462.1h.01M349 463.7h.01M359.5 565.3h.01M304.6 473.4h.01M294.7 483.7h.01M290 546.4h.01M296.3 554.7h.01M363 562.6h.01M378.8 533.1h.01M326.2 462.5h.01M284 506.3h.01M375.6 493.3h.01M374.7 491.2h.01M310.4 565.6h.01M355.4 466.9h.01M302.1 475.7h.01M375.7 543.8h.01M373.1 487.5h.01M376.6 496.6h.01M355.2 567.7h.01M339 572.2h.01M347.2 463.2h.01M379.4 509.4h.01M320 569.7h.01M331 572h.01M353.2 568.6h.01M379.3 529.4h.01M379.8 523.7h.01M338.8 461.7h.01M360.9 564h.01M282.9 524.7h.01M290.5 490.5h.01M289.3 544.7h.01M372.2 551h.01M378.4 534.4h.01M357.6 566.2h.01M342.7 571.7h.01M367.1 477.9h.01M283 513.5h.01M283.7 529.3h.01M335 572.2h.01M328.2 571.5h.01M315.2 567.7h.01M308.4 471h.01M289.3 493h.01M379.9 519.5h.01M375 545h.01M286.8 498.6h.01M378.1 535.4h.01M305.5 562.3h.01M379.4 526.9h.01M379.3 510.3h.01M290.3 491.2h.01M372.8 549.5h.01M353.6 568.3h.01M377.3 499.7h.01M358.3 469.3h.01M357.7 468.8h.01M376.7 497.4h.01M340.5 462.1h.01M284.4 506.5h.01M365.9 559.2h.01M317.9 568.7h.01M295.9 483h.01M351.9 465.5h.01M357 566.3h.01M288.7 543h.01M314.3 567.1h.01M324.1 463.5h.01M283 521.6h.01M359.8 470.6h.01M344.5 462.9h.01M377.3 538h.01M375.6 543h.01M345.7 463.3h.01M311.8 565.8h.01M337.8 462h.01M309.5 470.5h.01M338.6 571.8h.01M377.5 501.2h.01M379.6 521.1h.01M317.2 466.3h.01M345.8 463.4h.01M374.8 492.6h.01M290.5 491.5h.01M283.9 510.1h.01M366.3 558.4h.01M294.3 551.2h.01M283.4 524h.01M295.5 552.6h.01M375.7 495.3h.01M283.2 517.2h.01M302.8 559.7h.01M283.3 521h.01M365.5 559.1h.01M374.2 491.3h.01M283.6 513.1h.01M379 510.8h.01M351.8 568.5h.01M306.6 473h.01M371.6 485.9h.01M317.3 466.5h.01M349 569.5h.01M284.8 531.3h.01M285.8 534.8h.01M313.6 468.4h.01M372.6 549h.01M378.2 505.7h.01M297.5 554.5h.01M338.8 571.4h.01M371.9 550.2h.01M309.3 471.2h.01M357.8 469.6h.01M367.1 557.1h.01M372.3 487.5h.01M372.9 488.9h.01M359.9 563.8h.01M305.7 561.6h.01M340.6 571.2h.01M376 496.8h.01M348.8 569.5h.01M307.4 472.7h.01M327.7 570.7h.01M348.2 569.6h.01M358.5 564.7h.01M375.7 541.3h.01M370.2 483.9h.01M363.4 474.8h.01M289.9 543.8h.01M302.2 477.2h.01M379.1 524.4h.01M361.6 562.4h.01M313 565.8h.01M313.9 566.2h.01M371.5 486.2h.01M373.7 546.4h.01M379 525.7h.01M367.4 556.5h.01M314 468.6h.01M285.4 532.5h.01M321.7 465.1h.01M346.8 464.3h.01M307.5 562.6h.01M313.8 468.7h.01M283.7 518.1h.01M379.1 523.4h.01M339.4 462.9h.01M309.4 563.7h.01M287.9 539.4h.01M284.6 510.2h.01M300 556.6h.01M338.4 462.9h.01M377.6 503.9h.01M328.5 463.4h.01M300.9 557.3h.01M287.1 500.7h.01M288.6 540.8h.01M316 467.7h.01M294.8 486.1h.01M350 568.8h.01M304.6 560.3h.01M378.5 510.2h.01M379.1 521.2h.01M376.1 539.5h.01M378.9 524.4h.01M373.2 546.8h.01M378.9 515h.01M370.4 551.9h.01M320 466.1h.01M309.2 471.9h.01M305.8 474.5h.01M284.3 524.2h.01M325.6 464.4h.01M376 539.3h.01M342.9 463.8h.01M378.7 513.4h.01M359.2 471.5h.01M325.8 464.4h.01M374.5 493.9h.01M316.8 467.7h.01M375.7 497.6h.01M284.2 517.6h.01M303.1 558.8h.01M376.9 535.6h.01M337.5 570.8h.01M366.3 557.1h.01M364.8 558.7h.01M284.8 526.9h.01M372.6 489.7h.01M371.7 549.2h.01M378.7 523.6h.01M363.6 559.9h.01M378.1 529.1h.01M377.3 504.6h.01M286.8 534.7h.01M307.3 473.7h.01M284.4 517.5h.01M357.3 470.4h.01M305.9 560.7h.01M353.9 468.2h.01M374.9 495.6h.01M375.9 498.8h.01M358.1 471h.01M330.9 570.4h.01M367.7 555.1h.01M347.7 465.4h.01M359.4 563.2h.01M318.2 467.3h.01M346.9 465.2h.01M354 468.4h.01M346.2 465h.01M324.2 465.2h.01M356 469.6h.01M347.7 568.9h.01M305.7 475.3h.01M368.9 483.2h.01M341 570.2h.01M378.1 510.1h.01M322.5 568.6h.01M300.2 480.5h.01M355 469h.01M353.3 566.7h.01M374.8 495.8h.01M378.2 511.5h.01M303.2 558.3h.01M318.4 467.4h.01M300.2 480.7h.01M289.1 497.7h.01M329.5 570h.01M369.8 484.9h.01M330.6 464h.01M291 493.8h.01M297.3 552.6h.01M288.6 499h.01M337 463.7h.01M377 533.9h.01M323.9 568.9h.01M375.5 539.3h.01M343.9 464.7h.01M294.7 487.7h.01M376.1 500.7h.01M373.6 544.4h.01M285.3 526.5h.01M372.7 546.4h.01M297.7 552.9h.01M303.8 477.3h.01M378.3 513.7h.01M378.1 526.4h.01M334.9 570.3h.01M313.4 470.2h.01M378.4 520.4h.01M375.8 499.7h.01M299 482.3h.01M371.9 547.9h.01M329.1 464.4h.01M363.7 476.8h.01M316.3 468.7h.01M353.3 566.4h.01M285.4 511.7h.01M370.7 549.9h.01M367.8 482.1h.01M293.9 489.2h.01M288.9 499h.01M371.5 548.5h.01M360.1 562.2h.01M336 570.2h.01M368.6 553.2h.01M372.5 546.4h.01M287.3 503.8h.01M376 536.9h.01M302.1 557h.01M285.4 525.6h.01M306.7 475.1h.01M359.6 562.4h.01M342.5 569.6h.01M341.8 569.7h.01M325.9 569h.01M288.4 500.6h.01M300.2 481.3h.01M334.3 464.1h.01M378.1 524.5h.01M364.7 557.9h.01M357.7 563.7h.01M294.4 488.8h.01M346.1 465.7h.01M355.5 470h.01M328.6 569.4h.01M339.6 464.4h.01M295.7 487h.01M294.7 548.6h.01M376.7 533.5h.01M304.7 558.9h.01M377.7 527.1h.01M371.5 488.9h.01M310 472.8h.01M333.7 569.9h.01M378.1 521.3h.01M366.5 480.8h.01M369.1 552.1h.01M378.1 517.1h.01M287.4 533.8h.01M374.6 496.7h.01M373.5 543.8h.01M294.2 489.5h.01M363.8 477.5h.01M285.5 514.7h.01M330.3 569.5h.01M376.2 535h.01M377 507h.01M294.7 488.8h.01M370.6 549.3h.01M367.3 554.4h.01M291.1 495.2h.01M377.8 525.2h.01M286.2 510.3h.01M297.7 551.9h.01M296.8 485.9h.01M285.5 516.9h.01M313.1 564h.01M350.7 467.7h.01M376.5 504.4h.01M285.5 518.4h.01M328 569.1h.01M285.6 523h.01M353.9 469.4h.01M322.9 466.7h.01M285.7 523.7h.01M297.4 485.3h.01M357.2 563.6h.01M326.6 465.7h.01M337.1 569.7h.01M317.2 469h.01M365.9 480.4h.01M347.9 466.7h.01M312.3 471.7h.01M318.9 468.3h.01M302.6 556.6h.01M370.1 486.9h.01M358.9 562.3h.01M314.4 564.5h.01M291.8 494.4h.01M374.6 497.7h.01M290.2 497.7h.01M350.5 467.9h.01M331 465h.01M301 481.4h.01M367.8 483.2h.01M377.6 524h.01M286.4 527.7h.01M308.6 561.1h.01M346.5 466.4h.01M374.9 538.8h.01M322.8 467h.01M348.2 467.1h.01M374.2 497.1h.01M302.3 480.1h.01M317.5 469.2h.01M353.4 565.4h.01M287 508.2h.01M350.6 566.7h.01M288.3 534.7h.01M342.2 465.5h.01M370.8 548.3h.01M286.7 509.9h.01M328.3 465.7h.01M335.5 569.3h.01M368.8 485.2h.01M331.9 465.2h.01M330.8 465.4h.01M319.6 566.3h.01M358.6 473.3h.01M286 520.5h.01M375.6 535.4h.01M335.1 569.2h.01M286.2 523.7h.01M361.7 476.2h.01M370 549.5h.01M372 545.6h.01M359.3 561.5h.01M286.2 522.6h.01M373.9 540.9h.01M370.6 548.2h.01M322.5 567.2h.01M287.3 508.2h.01M367.2 482.9h.01M374.5 539.3h.01M344.3 568.3h.01M300.9 554.4h.01M300 483.1h.01M374.3 498.1h.01M292.1 494.8h.01M289.7 537.7h.01M287.8 506.3h.01M354.3 564.6h.01M377.3 513.4h.01M356.5 471.9h.01M312.5 472.3h.01M300 553.4h.01M286.3 515.2h.01M372.8 543.5h.01M334.4 465.3h.01M301.3 554.6h.01M377 511.2h.01M344.8 466.4h.01M287.9 532h.01M346 567.8h.01M313.8 563.6h.01M367.6 483.8h.01M369 486h.01M330.4 465.7h.01M318.5 469.2h.01M373 494.6h.01M350 566.5h.01M369.1 550.6h.01M347.6 467.4h.01M307.1 476.4h.01M301.7 554.9h.01M323.1 467.5h.01M317.1 470h.01M286.7 525.8h.01M376.5 507.9h.01M286.5 523h.01M377.2 514.3h.01M328 466.2h.01M300.6 482.7h.01M336.5 465.4h.01M375.8 533.5h.01M305.9 558.5h.01M363.1 557.9h.01M326.4 466.6h.01M312.9 472.4h.01M374 540.1h.01M286.4 518.2h.01M339.9 568.7h.01M364.7 556.2h.01M363.5 478.6h.01M374.6 538h.01M294.6 546.2h.01M287.2 510.2h.01M353.8 564.6h.01M367 553.4h.01M376.8 511.4h.01M286.6 523h.01M366.3 554.1h.01M292.2 542.1h.01M310.2 561.3h.01M370.3 488.9h.01M314 471.9h.01M366.2 554.3h.01M376 532.2h.01M328.4 466.4h.01M352.5 565.1h.01M316.8 470.4h.01M355.1 563.8h.01M346.8 467.4h.01M311.4 473.6h.01M313.7 563.2h.01M318 469.9h.01M305.7 478h.01M287.2 526.6h.01M332.2 465.9h.01M291.9 496.4h.01M359.5 560.8h.01M304.1 556.6h.01M287.3 527.2h.01M375.2 502.9h.01M318.3 565.2h.01M311.6 561.9h.01M288.1 507.6h.01M314.8 471.6h.01M347.4 566.9h.01M364.6 480.4h.01M343 567.9h.01M287 524.6h.01M298 550.3h.01M287.5 510.8h.01M373.3 541h.01M362.2 558.3h.01M287.3 512.1h.01M355 563.6h.01M353.2 470.5h.01M349.6 468.8h.01M360.5 559.8h.01M337.3 568.5h.01M307 558.7h.01M375.5 533.5h.01M298.6 550.9h.01M354.2 471.2h.01M297.8 549.9h.01M335.8 568.4h.01M368 551.3h.01M321.6 468.7h.01M305.3 478.8h.01M289 504.8h.01M363.6 479.5h.01M361.8 477.5h.01M358.7 561h.01M298.9 551h.01M300.3 484h.01M357.5 473.6h.01M316.6 471h.01M330.6 466.5h.01M375.9 507.6h.01M340.6 466.5h.01M304.8 556.8h.01M334.8 568.3h.01M369.7 548.4h.01M308.4 476.4h.01M376.4 527.2h.01M370.4 490.2h.01M292.7 495.8h.01M330.5 567.9h.01M299.5 485.2h.01M307 477.5h.01M366.9 552.6h.01M338.2 466.4h.01M313.6 472.8h.01M374 499.7h.01M361.1 558.8h.01M288 528h.01M318.1 470.5h.01M298.6 486.4h.01M296.1 547.2h.01M316 471.5h.01M312.6 561.9h.01M333 568.1h.01M354.5 471.8h.01M359.2 475.3h.01M373.9 499.4h.01M376.3 526.9h.01M357.5 561.6h.01M347 468.2h.01M287.9 527.1h.01M297.5 548.9h.01M305.9 557.4h.01M372 543.3h.01M369.7 489h.01M287.3 518.8h.01M330.1 466.9h.01M365.5 554.1h.01M325.2 467.9h.01M289.4 533.5h.01M289.3 505.2h.01M307 477.8h.01M346.9 468.3h.01M289.3 532.7h.01M290 535h.01M314.3 472.7h.01M306.4 557.7h.01M301.5 483.2h.01M349.7 565.5h.01M361 558.7h.01M287.5 515.7h.01M327.9 467.4h.01M376.6 521.3h.01M321.9 565.8h.01M315 472.3h.01M376.4 513.7h.01M317.2 564h.01M335.4 466.6h.01M289 531.6h.01M375.7 529.7h.01M309.4 476.1h.01M311 474.9h.01M323.4 566.2h.01M376.4 522.9h.01M375 504.8h.01M371.6 543.8h.01M289.4 532.7h.01M374.1 501h.01M376.5 518.6h.01M358 560.9h.01M364.9 554.5h.01M292.7 496.9h.01M302.3 553.8h.01M302.4 482.6h.01M308.2 477.2h.01M287.7 521.8h.01M288.4 528h.01M376.1 512.4h.01M360.4 558.9h.01M299.7 485.8h.01M314.4 562.4h.01M318.2 564.2h.01M289.3 531.6h.01M352.8 471.3h.01M373.4 538.7h.01M309 559.2h.01M287.8 516.1h.01M371.8 542.9h.01M376.4 519.3h.01M366.7 484.7h.01M365.8 553.3h.01M352.2 564.1h.01M375.4 507.5h.01M366.5 484.4h.01M370.7 491.9h.01M372.6 496.6h.01M295 492.8h.01M296.5 490.4h.01M374.6 503.5h.01M288.3 526.6h.01M372.4 496.3h.01M321.7 565.4h.01M356.3 561.8h.01M308.7 558.9h.01M337 567.6h.01M288.6 527.9h.01M319.4 470.6h.01M369.7 547h.01M365.2 482.7h.01M313 561.5h.01M370.4 491.5h.01M346.9 468.9h.01M375.5 508.9h.01M289 529.7h.01M297.5 489.2h.01M334 567.5h.01M288.8 509.5h.01M367.8 486.7h.01M323.2 565.7h.01M352.6 563.8h.01M287.9 519.2h.01M374.3 502.8h.01M374.5 534.2h.01M332.5 467.2h.01M371.9 495.2h.01M316.8 472h.01M329.3 567h.01M364.1 481.5h.01M374.8 532.9h.01M339.2 567.3h.01M372.7 540h.01M366.7 485.1h.01M358.5 560h.01M371.8 542.4h.01M288.6 526.9h.01M374.6 504.7h.01M291.2 501.6h.01M347.1 469.1h.01M289 529.1h.01M329.5 467.7h.01M348.2 565.4h.01M349.7 564.9h.01M320.1 470.5h.01M376.1 518.4h.01M363.1 480.4h.01M376 515.5h.01M327 468.3h.01M348 565.5h.01M369.8 546.6h.01M298.6 487.9h.01M370.6 492.5h.01M306.2 479.6h.01M291.1 535.9h.01M375.5 510.2h.01M289.5 507.5h.01M292.6 539.4h.01M336.1 467.3h.01M370.9 544.3h.01M376 516h.01M294.8 543.6h.01M326.3 566.3h.01M342.5 566.8h.01M288.3 515.7h.01M289.1 509.7h.01M357.2 474.8h.01M320.5 470.5h.01M372 496.2h.01M331.1 567.1h.01M304.8 555.4h.01M290.8 503.1h.01M363.9 554.9h.01M367.6 550h.01M368.1 487.7h.01M336.9 567.3h.01M341.2 566.9h.01M375.9 516.2h.01M316 472.7h.01M354.7 473.1h.01M344.4 566.3h.01M373.1 499.6h.01M372.4 497.3h.01M302.7 553.3h.01M359.3 476.7h.01M349.8 564.6h.01M375.5 511.1h.01M358.4 559.8h.01M292.5 538.7h.01M366.5 551.5h.01M289.4 508.8h.01M372.6 539.7h.01M354.3 562.5h.01M290.9 534.7h.01M363.8 481.6h.01M317.4 472.1h.01M375.8 522.9h.01M289.8 530.9h.01M346.3 565.7h.01M375.8 516.2h.01M371.1 494.4h.01M362.7 555.8h.01M334.6 467.7h.01M335.1 467.7h.01M336 467.7h.01M318.7 563.5h.01M329.9 566.6h.01M354.3 562.2h.01M365.1 552.9h.01M366.9 486.4h.01M304.8 481.5h.01M348.7 564.8h.01M375.6 523.3h.01M333 566.8h.01M324 565.3h.01M375.4 525.7h.01M333.4 566.9h.01M334.1 566.9h.01M373.1 537.4h.01M325.3 469.3h.01M288.7 522.5h.01M334.2 467.9h.01M374.5 506.4h.01M289.4 510.6h.01M288.9 523.7h.01M288.7 517.2h.01M334.5 566.8h.01M339 468h.01M374.3 505.4h.01M297.1 491.2h.01M319.7 471.4h.01M290.6 505.7h.01M303.9 553.9h.01M367.2 549.8h.01M309.3 558.2h.01M288.8 520.7h.01M314.5 561.3h.01M340 468.3h.01M307.3 556.7h.01M375.4 524.6h.01M335.7 566.7h.01M299.2 548.6h.01M293.6 539.7h.01M289.4 512.1h.01M350.2 563.9h.01M369.1 490.9h.01M292.5 537.3h.01M294.5 496.1h.01M289.4 525.8h.01M308.7 478.5h.01M293.6 498.1h.01M325.5 565.4h.01M371.5 496.4h.01M373.4 535.3h.01M375.4 522.6h.01M316.3 562.1h.01M306.4 480.5h.01M305.6 481.3h.01M294.5 496.3h.01M354.6 561.6h.01M320.7 563.9h.01M302.4 552h.01M363.8 482.6h.01M346.1 565.2h.01M291.3 533.8h.01M290.8 506h.01M374.4 530.9h.01M290.7 506.5h.01M299.6 548.8h.01M375.2 513.6h.01M361.5 556.3h.01M375.4 518.5h.01M343 469.1h.01M372.7 500.2h.01M374.7 509.2h.01M372.2 498.8h.01M296.2 493.5h.01M367.4 488h.01M289.5 512.7h.01M328.7 469h.01M296.1 543.8h.01M322.8 470.7h.01M320.8 471.4h.01M297.3 545.7h.01M301.3 550.6h.01M373.3 535.4h.01M294 539.9h.01M289.4 514.7h.01M370 493.2h.01M367 487.4h.01M298.8 547.6h.01M369.7 492.6h.01M341 468.8h.01M340.2 566.1h.01M359.5 557.9h.01M374.5 529.3h.01M310.7 558.6h.01M336.8 468.5h.01M361.9 480.6h.01M370.9 495.7h.01M316.4 561.8h.01M304.1 483.2h.01M298.7 547.4h.01M332 566.1h.01M317.5 562.3h.01M322.8 564.3h.01M299.1 547.8h.01M373.6 504.7h.01M324.2 470.4h.01M370.2 494h.01M304.9 554h.01M365.5 551.3h.01M371.8 539.6h.01M324.3 564.6h.01M374.7 511.1h.01M339.4 468.8h.01M341.4 565.8h.01M294.3 540h.01M350.1 563.4h.01M306.4 555.1h.01M335.6 566.1h.01M353.3 473.6h.01M295.8 494.9h.01M360.8 479.7h.01M343.8 565.3h.01M324.9 564.7h.01M293.6 538.5h.01M316.4 474h.01M311.5 558.8h.01M330.4 469.2h.01M369.8 493.4h.01M375.1 519.4h.01M354.7 561h.01M374.9 524.3h.01M308.9 479.1h.01M359.1 478.1h.01M319.6 472.4h.01M301.9 550.8h.01M371.2 497.1h.01M352.3 562.3h.01M369.8 543.9h.01M308.4 479.6h.01M290.5 509.6h.01M345 470.1h.01M307.3 480.6h.01M345.3 470.2h.01M352.1 473.2h.01M366.3 549.9h.01M353.3 561.7h.01M368.6 546h.01M338.6 565.8h.01M294.7 540.1h.01M326.4 470.2h.01M361.2 555.8h.01M290.9 529.7h.01M362 481.3h.01M374.7 513.1h.01M367.7 489.7h.01M307.9 480.2h.01M347.8 471.2h.01M367.2 548.3h.01M351.6 562.4h.01M290.2 525.9h.01M310.5 557.9h.01M291.6 505.9h.01M359 478.3h.01M374.7 524.1h.01M374.9 517.7h.01M318.6 562.3h.01M307.3 555.5h.01M317.6 561.8h.01M374.7 514.2h.01M371.6 538.9h.01M348.4 471.6h.01M358.1 477.6h.01M344.1 470.1h.01M299.2 547.1h.01M355.8 560h.01M370.8 496.5h.01M302.9 485.3h.01M364.8 551.6h.01M314.3 475.6h.01M310 478.7h.01M313.6 476.1h.01M366.1 487.1h.01M327.9 470h.01M346.1 470.8h.01M365.3 486h.01M373 534.1h.01M354.5 474.9h.01M372.8 534.7h.01M322 471.9h.01M324.5 564.1h.01M353 474h.01M323.1 563.7h.01M291 529.1h.01M307.7 555.6h.01M306.6 481.8h.01M294.3 538.6h.01M322.5 563.5h.01M374 509.7h.01M357.8 477.6h.01M347.3 471.4h.01M359 478.7h.01M373.8 508.6h.01M292 532.4h.01M318 473.8h.01M322.3 563.3h.01M364.6 551.5h.01M366.2 487.6h.01M335.5 469.4h.01M305.2 483.3h.01M327.8 470.3h.01M305 553.1h.01M370.9 497.4h.01M349.2 563h.01M328.3 564.8h.01M374.1 511h.01M374.3 525.2h.01M298.6 491.6h.01M334.9 565.5h.01M369.9 495.1h.01M314.4 475.9h.01M325.8 470.9h.01M298.2 545.2h.01M315.2 475.5h.01M316.3 560.8h.01M320.9 562.7h.01M333.9 565.4h.01M332.9 565.3h.01M374.2 526h.01M307.6 555.2h.01M367.8 546.5h.01M324.4 471.4h.01M309.3 479.7h.01M374.3 513.6h.01M292.8 534.2h.01M374 527h.01M319.8 562.2h.01M372.5 503.2h.01M335.5 565.3h.01M320.3 473h.01M345.9 471.2h.01M304.7 552.5h.01M369.6 542.8h.01M327.9 564.5h.01M298.8 545.6h.01M352.3 474.1h.01M312.7 477.3h.01M304.2 552h.01M363.3 483.9h.01M296.3 541.7h.01M370.2 496.2h.01M303.5 485.5h.01M326.5 564.2h.01M294.5 538.2h.01M291.7 529.9h.01M372.9 532.9h.01M313.6 559.1h.01M374.4 519.4h.01M316.5 560.6h.01M319 473.7h.01M368.2 545.4h.01M299.6 546.7h.01M374.4 517.8h.01M330.7 470.2h.01M358.3 557.4h.01M310.1 556.7h.01M360.3 480.5h.01M371.1 538.8h.01M323.6 471.9h.01M332 470h.01M364.5 485.8h.01M371.2 538.4h.01M372.4 534.7h.01M374.3 515.9h.01M345.6 563.8h.01M360.8 481.2h.01M302.1 487.4h.01M339.4 564.9h.01M307.6 481.7h.01M325.5 563.7h.01M299.2 491.6h.01M309.8 479.9h.01M323 472.3h.01M293.8 502.2h.01M350.5 562h.01M363.4 484.5h.01M290.7 517.7h.01M291 514.3h.01M354.9 559.6h.01M333.2 470.1h.01M362.3 483.1h.01M323.2 563h.01M373.5 528.7h.01M374 514.4h.01M371.1 538.4h.01M346 471.7h.01M374.2 517.4h.01M290.9 515.2h.01M353.8 560.2h.01M300.9 489.3h.01M313.3 558.6h.01M350.6 473.6h.01M310.7 479.3h.01M354.8 476.2h.01M341.4 470.6h.01M305.4 484h.01M348.2 472.6h.01M366.6 547.7h.01M373.8 525.6h.01M353.2 560.5h.01M357.8 557.5h.01M307.7 481.8h.01M363.5 484.8h.01M294.4 536.8h.01M324.1 563.2h.01M360.1 555.5h.01M371.4 500.8h.01M370 541h.01M309 480.8h.01M318.5 561.1h.01M299.2 545.4h.01M306.4 553.4h.01M364.4 486.1h.01M316.6 475.5h.01M310 480.1h.01M293.6 503.4h.01M345.6 471.8h.01M319.6 474h.01M373.2 509.1h.01M291.7 510.8h.01M374 522.3h.01M369.8 496.3h.01M354 559.9h.01M347.1 472.3h.01M319.6 561.5h.01M294.9 500.2h.01M371.3 537.1h.01M307.3 554h.01M294.6 536.9h.01M295.3 499.4h.01M350.9 561.5h.01M331.2 470.7h.01M366.4 547.6h.01M326.8 471.5h.01M291.6 512.1h.01M374 519.9h.01M346.4 472.1h.01M347.2 562.9h.01M322.4 562.4h.01M306 552.8h.01M332.8 470.5h.01M371.3 501.2h.01M371.8 503h.01M372.1 533.9h.01M302 548.6h.01M366.7 547h.01M291.3 515.4h.01M359.4 555.8h.01M342 471.1h.01M358.3 556.7h.01M353.8 475.9h.01M294.5 536.4h.01M311.7 479h.01M339.7 470.8h.01M370.1 497.6h.01M344.9 471.8h.01M349.4 561.9h.01M366.4 489.7h.01M299.4 492.2h.01M373.8 520.5h.01M333.1 470.7h.01M373.7 514.8h.01M291.3 516h.01M292.6 530.1h.01M334.2 470.7h.01M293.2 532.3h.01M340.1 564.2h.01M370.2 498.3h.01M301.6 489.3h.01M293.7 533.7h.01M357 557.6h.01M319.1 474.6h.01M293.1 531.9h.01M351.5 560.9h.01M330.6 471.1h.01M318 560.4h.01M351.8 474.9h.01M302.8 487.8h.01M341.7 471.3h.01M291.9 512.2h.01M294.6 536h.01M344.9 472h.01M366.5 490.3h.01M336.9 564.3h.01M320.1 474.3h.01M293.6 533h.01M351.2 474.7h.01M362 552.9h.01M346.6 562.7h.01M370.2 498.5h.01M336.6 564.3h.01M369.3 496.3h.01M368.9 542.2h.01M353.1 475.8h.01M314.3 558.4h.01M339.7 471.1h.01M343.3 471.7h.01M293 530.7h.01M347.9 562.2h.01M360.2 481.8h.01M308.9 481.8h.01M345.2 563h.01M338 564.2h.01M318.7 560.5h.01M373 510.7h.01M357.1 557.2h.01M351.7 475.1h.01M309.6 481.2h.01M351.7 560.5h.01M354.2 559.1h.01M367.7 544.5h.01M373.4 523.3h.01M332.3 471.2h.01M370.6 500.2h.01M373 511.2h.01M373.5 522.5h.01M343.2 471.9h.01M302.8 488.3h.01M292.8 509.1h.01M367 491.7h.01M372.8 528.4h.01M318.1 475.6h.01M372.1 505.9h.01M336.9 471.1h.01M363.6 550.7h.01M338.7 564h.01M306.1 484.6h.01M328.5 471.8h.01M313.6 478.3h.01M362.1 484.2h.01M329.2 563.5h.01M367.7 493.3h.01M307.9 553.6h.01M293.5 531.6h.01M293.1 508.2h.01M373.4 517.2h.01M302.8 548.6h.01M333.7 564h.01M334.4 471.2h.01M372.7 509.6h.01M318.9 560.4h.01M304.5 486.5h.01M307.6 483.3h.01M371.2 535.4h.01M354.5 477.2h.01M292.2 524.4h.01M351 475.1h.01M363.4 550.7h.01M326.3 562.8h.01M306.6 552.3h.01M349.9 474.5h.01M328 472.2h.01M343.8 563h.01M373 525.5h.01M340 563.6h.01M310.4 555.4h.01M294.3 504.6h.01M293.7 506.5h.01M370.6 501h.01M347.2 473.4h.01M358.7 555.5h.01M367.6 543.9h.01M358.9 481.1h.01M341.7 563.3h.01M354.9 477.7h.01M364.4 487.8h.01M363.2 550.8h.01M324.8 562.3h.01M316.4 476.9h.01M311.2 480.5h.01M308.6 553.8h.01M335.6 563.8h.01M338.2 471.5h.01M367 544.9h.01M295 535.2h.01M356.7 556.9h.01M292.2 515.2h.01M294.5 533.8h.01M292.7 526.8h.01M365.7 547.1h.01M346.4 562.1h.01M292.1 519.3h.01M344.6 562.6h.01M337.8 563.6h.01M348.9 561.2h.01M354.3 558.5h.01M344.5 472.8h.01M368.8 541.1h.01M310.8 555.3h.01M292.4 514.6h.01M365.9 490.6h.01M295.8 536.8h.01M355.9 478.8h.01M297.2 498.2h.01M369.4 539.6h.01M327.4 472.7h.01M330.3 563.2h.01M367.5 493.7h.01M327.2 562.6h.01M362.3 485.4h.01M325 473.4h.01M318.1 559.5h.01M334.3 471.8h.01M313.2 479.4h.01M304.5 487.3h.01M319.4 560h.01M373 519.7h.01M298.1 541h.01M348 474.2h.01M328.8 472.5h.01M314.3 557.4h.01M361.5 484.5h.01M350 560.5h.01M335 471.8h.01M314.8 557.6h.01M299.3 542.9h.01M372.7 513.1h.01M372.9 521.5h.01M339.8 563.2h.01M296.9 499.3h.01M372.3 528.1h.01M323 561.3h.01M346.2 473.7h.01M292.6 521.7h.01M298.4 496.4h.01M362.7 550.7h.01M294 530.3h.01M302.6 490h.01M372.8 515.9h.01M313.6 556.8h.01M339.2 472.2h.01M364.8 547.7h.01M292.7 516.9h.01M296.5 537.3h.01M370.1 536.8h.01M319.1 476.2h.01M356.8 480h.01M316.4 558.2h.01M331.1 562.9h.01M365 490h.01M297.5 539.1h.01M332.9 472.3h.01M341.4 472.7h.01M306 486.3h.01M296.8 500.4h.01M322.2 475.1h.01M322.2 560.6h.01M304.5 548.8h.01M302.1 545.9h.01M353.4 558.1h.01M363.3 487.8h.01M299.3 495.9h.01M351.3 476.6h.01M332 472.8h.01M367.6 495.6h.01M361.5 551.2h.01M305.3 549.4h.01M370.9 505.4h.01M295.8 503.9h.01M296.7 501.6h.01M371.4 508.3h.01M293.7 513.2h.01M355.9 556.1h.01M312.8 555.4h.01M352 558.6h.01M352.3 477.6h.01M301.4 544.2h.01M370.9 531h.01M294.6 528.6h.01M359.8 552.6h.01M358.2 554.1h.01M347.5 560.3h.01M370.4 533h.01M362.2 549.8h.01M307.4 550.7h.01M324.7 475.1h.01M335.8 562.1h.01M301.6 493.6h.01M300.8 495.1h.01M370.7 530.5h.01M369.6 503.6h.01M362.5 548.7h.01M333 561.6h.01M226 504.8h.01M240.2 529h.01M250.3 468.5h.01M424 531h.01M405.8 482.6h.01M411.8 557.3h.01" stroke="#0d0d0d" stroke-width="2.9" stroke-linecap="round" fill="none"/>
<path d="M171 421.5V602.6H496" stroke="#000" stroke-width="2.2" fill="none" stroke-linejoin="miter"/>
<path d="M171 428.5h-6.8M171 447.2h-6.8M171 466h-6.8M171 484.7h-6.8M171 503.4h-6.8M171 522.1h-6.8M171 540.9h-6.8M171 559.6h-6.8M171 578.3h-6.8M171 597.1h-6.8M174 602.6v7.4M191.5 602.6v7.4M209.1 602.6v7.4M226.6 602.6v7.4M244.1 602.6v7.4M261.6 602.6v7.4M279.2 602.6v7.4M296.7 602.6v7.4M314.2 602.6v7.4M331.8 602.6v7.4M349.3 602.6v7.4M366.8 602.6v7.4M384.4 602.6v7.4M401.9 602.6v7.4M419.4 602.6v7.4M437 602.6v7.4M454.5 602.6v7.4M472 602.6v7.4M489.5 602.6v7.4" stroke="#000" stroke-width="2.15" fill="none"/>
<text x="95.92" y="433.7" font-family="Liberation Sans, sans-serif" font-size="17.1" textLength="59.23" lengthAdjust="spacingAndGlyphs">10,000</text>
<text x="88.32" y="452.5" font-family="Liberation Sans, sans-serif" font-size="17.1" textLength="66.85" lengthAdjust="spacingAndGlyphs">-50,000</text>
<text x="77.02" y="471.3" font-family="Liberation Sans, sans-serif" font-size="17.1" textLength="78.15" lengthAdjust="spacingAndGlyphs">-100,000</text>
<text x="77.02" y="490.1" font-family="Liberation Sans, sans-serif" font-size="17.1" textLength="78.15" lengthAdjust="spacingAndGlyphs">-150,000</text>
<text x="77.02" y="508.9" font-family="Liberation Sans, sans-serif" font-size="17.1" textLength="78.15" lengthAdjust="spacingAndGlyphs">-200,000</text>
<text x="77.02" y="527.7" font-family="Liberation Sans, sans-serif" font-size="17.1" textLength="78.15" lengthAdjust="spacingAndGlyphs">-250,000</text>
<text x="77.02" y="546.5" font-family="Liberation Sans, sans-serif" font-size="17.1" textLength="78.15" lengthAdjust="spacingAndGlyphs">-300,000</text>
<text x="77.02" y="565.3" font-family="Liberation Sans, sans-serif" font-size="17.1" textLength="78.15" lengthAdjust="spacingAndGlyphs">-350,000</text>
<text x="77.02" y="584.1" font-family="Liberation Sans, sans-serif" font-size="17.1" textLength="78.15" lengthAdjust="spacingAndGlyphs">-400,000</text>
<text x="77.02" y="602.9" font-family="Liberation Sans, sans-serif" font-size="17.1" textLength="78.15" lengthAdjust="spacingAndGlyphs">-450,000</text>
<text x="152.03" y="633.9" font-family="Liberation Sans, sans-serif" font-size="17.1" textLength="44.64" lengthAdjust="spacingAndGlyphs">-0.80</text>
<text x="222.08" y="633.9" font-family="Liberation Sans, sans-serif" font-size="17.1" textLength="44.64" lengthAdjust="spacingAndGlyphs">-0.60</text>
<text x="292.13" y="633.9" font-family="Liberation Sans, sans-serif" font-size="17.1" textLength="44.64" lengthAdjust="spacingAndGlyphs">-0.40</text>
<text x="362.18" y="633.9" font-family="Liberation Sans, sans-serif" font-size="17.1" textLength="44.64" lengthAdjust="spacingAndGlyphs">-0.20</text>
<text x="432.23" y="633.9" font-family="Liberation Sans, sans-serif" font-size="17.1" textLength="44.64" lengthAdjust="spacingAndGlyphs">-0.00</text>
<text x="215.99" y="665.7" font-family="Liberation Sans, sans-serif" font-size="24" textLength="82.62" lengthAdjust="spacingAndGlyphs" stroke="#111" stroke-width="0.2">Incremental</text>
<text x="216.59" y="665.7" font-family="Liberation Sans, sans-serif" font-size="24" textLength="82.62" lengthAdjust="spacingAndGlyphs" stroke="#111" stroke-width="0.2">Incremental</text>
<text x="305.59" y="665.7" font-family="Liberation Sans, sans-serif" font-size="24" textLength="90.32" lengthAdjust="spacingAndGlyphs" stroke="#111" stroke-width="0.2">effectiveness</text>
<text x="306.19" y="665.7" font-family="Liberation Sans, sans-serif" font-size="24" textLength="90.32" lengthAdjust="spacingAndGlyphs" stroke="#111" stroke-width="0.2">effectiveness</text>
<text x="402.88" y="665.7" font-family="Liberation Sans, sans-serif" font-size="24" textLength="46.63" lengthAdjust="spacingAndGlyphs" stroke="#111" stroke-width="0.2">(QALY)</text>
<text x="403.48" y="665.7" font-family="Liberation Sans, sans-serif" font-size="24" textLength="46.63" lengthAdjust="spacingAndGlyphs" stroke="#111" stroke-width="0.2">(QALY)</text>
<text transform="translate(64.6 595.2) rotate(-90)" x="-1.48" y="0" font-family="Liberation Sans, sans-serif" font-size="24" textLength="84.06" lengthAdjust="spacingAndGlyphs" stroke="#111" stroke-width="0.2">Incremental</text>
<text transform="translate(64.6 595.2) rotate(-90)" x="-0.88" y="0" font-family="Liberation Sans, sans-serif" font-size="24" textLength="84.06" lengthAdjust="spacingAndGlyphs" stroke="#111" stroke-width="0.2">Incremental</text>
<text transform="translate(64.6 506.6) rotate(-90)" x="-0.67" y="0" font-family="Liberation Sans, sans-serif" font-size="24" textLength="29.09" lengthAdjust="spacingAndGlyphs" stroke="#111" stroke-width="0.2">cost</text>
<text transform="translate(64.6 506.6) rotate(-90)" x="-0.07" y="0" font-family="Liberation Sans, sans-serif" font-size="24" textLength="29.09" lengthAdjust="spacingAndGlyphs" stroke="#111" stroke-width="0.2">cost</text>
<text transform="translate(64.6 470.8) rotate(-90)" x="-0.94" y="0" font-family="Liberation Sans, sans-serif" font-size="24" textLength="42.29" lengthAdjust="spacingAndGlyphs" stroke="#111" stroke-width="0.2">(USD)</text>
<text transform="translate(64.6 470.8) rotate(-90)" x="-0.34" y="0" font-family="Liberation Sans, sans-serif" font-size="24" textLength="42.29" lengthAdjust="spacingAndGlyphs" stroke="#111" stroke-width="0.2">(USD)</text>
<text x="16.53" y="704.2" font-family="Liberation Sans, sans-serif" font-weight="bold" font-size="29.4" textLength="20.66" lengthAdjust="spacingAndGlyphs" stroke="#111" stroke-width="0.3">C</text>
<text x="163.36" y="738.2" font-family="Liberation Sans, sans-serif" font-size="23.2" textLength="77.37" lengthAdjust="spacingAndGlyphs" stroke="#111" stroke-width="0.3">Imatinib</text>
<text x="247.49" y="738.2" font-family="Liberation Sans, sans-serif" font-size="23.2" textLength="35.07" lengthAdjust="spacingAndGlyphs" stroke="#111" stroke-width="0.3">first</text>
<text x="290.63" y="738.2" font-family="Liberation Sans, sans-serif" font-size="23.2" textLength="24.73" lengthAdjust="spacingAndGlyphs" stroke="#111" stroke-width="0.3">vs.</text>
<text x="322.2" y="738.2" font-family="Liberation Sans, sans-serif" font-size="23.2" textLength="106.39" lengthAdjust="spacingAndGlyphs" stroke="#111" stroke-width="0.3">physician’s</text>
<text x="436.82" y="738.2" font-family="Liberation Sans, sans-serif" font-size="23.2" textLength="66.4" lengthAdjust="spacingAndGlyphs" stroke="#111" stroke-width="0.3">choice</text>
<path d="M171.7 761.8H487.3" stroke="#6a6a6a" stroke-width="1.35" stroke-dasharray="5.5 4.65" stroke-dashoffset="4.05" fill="none"/>
<path d="M454.2 760.5V931.6" stroke="#6a6a6a" stroke-width="1.35" stroke-dasharray="6.1 4.15" fill="none"/>
<path d="M171.7 792.5L488 758.8" stroke="#111" stroke-width="1.5" stroke-dasharray="5.6 4.78" stroke-dashoffset="4.22" fill="none"/>
<text transform="translate(194 803) rotate(-4.84)" x="-0.06" y="0" font-family="Liberation Sans, sans-serif" font-size="12.4" textLength="91.9" lengthAdjust="spacingAndGlyphs" stroke="#111" stroke-width="0.1">WTP $ 100,000</text>
<path d="M402.6 815.2L402.5 818.1L402.3 821L401.9 823.8L401.4 826.6L400.8 829.3L400 831.9L399 834.3L397.9 836.6L396.7 838.7L395.3 840.7L393.8 842.5L392.2 844L390.4 845.4L388.5 846.5L386.5 847.3L384.4 848L382.3 848.3L380 848.5L377.7 848.3L375.3 848L373 847.3L370.6 846.5L368.3 845.4L366 844L363.8 842.5L361.7 840.7L359.7 838.7L357.8 836.6L356.1 834.3L354.6 831.9L353.3 829.3L352.2 826.6L351.3 823.8L350.7 821L350.3 818.1L350.2 815.2L350.3 812.4L350.7 809.5L351.3 806.7L352.2 803.9L353.3 801.2L354.6 798.6L356.1 796.2L357.8 793.9L359.7 791.8L361.7 789.8L363.8 788L366 786.5L368.3 785.1L370.6 784L373 783.2L375.3 782.5L377.7 782.2L380 782L382.3 782.2L384.4 782.5L386.5 783.2L388.5 784L390.4 785.1L392.2 786.5L393.8 788L395.3 789.8L396.7 791.8L397.9 793.9L399 796.2L400 798.6L400.8 801.2L401.4 803.9L401.9 806.7L402.3 809.5L402.5 812.4Z" fill="#0d0d0d" stroke="#0d0d0d" stroke-width="1.6"/><path d="M396.1 876.2h.01M352.2 761.4h.01M347.1 864.6h.01M414.1 833.3h.01M400.2 865.9h.01M328.8 836.4h.01M332.4 788.2h.01M344.6 856.4h.01M370.6 870.5h.01M325.5 813.6h.01M391 868.9h.01M412.5 801.2h.01M407.3 850h.01M338.1 846h.01M366.5 867.1h.01M368 763.3h.01M367.2 866.5h.01M405.6 778.6h.01M395.8 863.4h.01M371.9 763.3h.01M360.1 862.8h.01M411.1 799.5h.01M373.3 763.8h.01M342.6 782.6h.01M392.4 766.1h.01M360.5 861.9h.01M409.4 791.8h.01M411.2 802.2h.01M409.3 838h.01M352.2 774.7h.01M358.7 770.5h.01M391.3 766.6h.01M374.9 764.7h.01M404.6 850.4h.01M382.2 764.5h.01M333.8 801.4h.01M333.4 827.1h.01M387.6 765.7h.01M406.2 784.2h.01M405.5 782.7h.01M387.1 765.8h.01M389.8 766.9h.01M340.6 841.7h.01M334.9 830.2h.01M332.5 811.7h.01M346.4 781.5h.01M410.4 802.9h.01M361.3 860h.01M361.1 859.7h.01M361.8 770.5h.01M333 816.5h.01M410.2 802.7h.01M367.2 768.2h.01M388.3 767.1h.01M405 783.3h.01M363.4 860.5h.01M375.5 766.3h.01M404.7 782.8h.01M408.1 838.2h.01M405.8 844.8h.01M384.1 864h.01M357.9 857.1h.01M382.8 863.9h.01M410.1 825.9h.01M388.1 767.7h.01M334.7 823.4h.01M369.7 768.2h.01M343.8 843.6h.01M391.3 769.2h.01M370.4 862.3h.01M339 835.4h.01M361.1 772.3h.01M334.8 809.5h.01M394.9 771.8h.01M337.9 799h.01M335.7 823.1h.01M409.9 808.5h.01M392.2 770.7h.01M405.3 786.9h.01M388.4 769.1h.01M381.6 862.6h.01M400.9 778.8h.01M364.9 859.1h.01M358.9 855.9h.01M338.9 832.2h.01M369.2 860.6h.01M372.3 769h.01M382.1 862.2h.01M405.1 843.3h.01M337 825.2h.01M400.8 851.1h.01M362.1 773.3h.01M381.5 862.1h.01M408.1 797.8h.01M389.6 860.2h.01M367.1 771.2h.01M404.9 842.7h.01M372.2 860.6h.01M336.5 816.8h.01M349.6 783.6h.01M393.1 857.9h.01M390 859.5h.01M377.9 769.2h.01M338.9 828.8h.01M360.1 775.3h.01M338 804.9h.01M409.3 819.4h.01M337.4 822.5h.01M394.9 856.4h.01M402 848.2h.01M399.3 852h.01M343 837.6h.01M376.4 860.9h.01M407.2 834.4h.01M407.3 833.5h.01M337.1 814.9h.01M399.8 779.4h.01M337.3 811.7h.01M364.5 773.4h.01M401.7 782.5h.01M369 771.6h.01M344.3 838.8h.01M340.7 831.8h.01M366.5 857.8h.01M395.3 855.5h.01M346.3 788.8h.01M395.7 775.4h.01M387.1 859.6h.01M337.7 818.4h.01M409 815h.01M387.6 771.1h.01M362.7 855.7h.01M403.3 785.9h.01M408 802.3h.01M390.7 772.4h.01M404.5 841.7h.01M344.5 792.1h.01M383.2 860.2h.01M361.3 854.7h.01M405 840h.01M406.4 795h.01M399.6 780.2h.01M407.5 799.9h.01M338 815.9h.01M389.3 772.2h.01M341.6 798.6h.01M367.2 773.2h.01M346.5 789.9h.01M363.9 855.6h.01M343.1 795.9h.01M370.2 858.2h.01M375 771.2h.01M398 778.9h.01M386.5 771.7h.01M407.3 800.4h.01M408.4 810.9h.01M338.7 813.3h.01M339 820.6h.01M407.7 826.3h.01M338.8 815.8h.01M389.9 857.3h.01M338.9 814.6h.01M400.2 782.1h.01M340.5 803.8h.01M347.2 790h.01M390.3 773.4h.01M364 855.1h.01M389.1 773h.01M365.1 775h.01M407.1 829.7h.01M389.7 857.2h.01M360.6 852.7h.01M408.1 818h.01M408.1 819.6h.01M400.3 782.9h.01M354.3 847.8h.01M400.7 847h.01M349.1 788.4h.01M348.7 789h.01M408.1 812.5h.01M400.7 846.7h.01M340 809.6h.01M387.1 772.8h.01M367.9 774.3h.01M348.8 841.4h.01M346.6 838.2h.01M358.1 850.5h.01M340.2 809.1h.01M407 828.2h.01M365.7 855h.01M360.9 852.4h.01M395.7 852.5h.01M343.2 831.5h.01M340 817.9h.01M397.1 850.9h.01M365.1 776h.01M388.4 773.7h.01M404.8 793.7h.01M402.2 787.2h.01M406.1 831.8h.01M340.7 808.7h.01M400.3 784.1h.01M340.4 814.8h.01M376.6 772.8h.01M389.4 856h.01M407.6 814.1h.01M343.1 800.9h.01M397.4 850h.01M367.8 855.2h.01M380.6 857.8h.01M397.5 780.6h.01M352.4 844.3h.01M404.7 836.1h.01M406.8 804.3h.01M348.4 839.2h.01M342.4 803.6h.01M358.9 850h.01M345.6 834.7h.01M358.4 849.6h.01M342.7 827.8h.01M367.6 775.6h.01M353.3 785.5h.01M394.4 777.9h.01M355.8 783.1h.01M399.2 847.3h.01M360 779.9h.01M407.4 811.4h.01M368.6 775.3h.01M407.4 812.8h.01M402.7 841h.01M378.7 857.3h.01M397.1 780.7h.01M388.5 855.8h.01M407.3 811.2h.01M400.6 845.1h.01M379.9 773.2h.01M386.9 856.3h.01M407.3 817.9h.01M406.6 826.2h.01M358.4 781.3h.01M352.8 786.5h.01M406.2 828.8h.01M351.5 788.1h.01M397.4 781.2h.01M397.5 849h.01M386.1 774.1h.01M380.8 773.4h.01M349.4 839.6h.01M347.2 836.4h.01M391 854.3h.01M400.2 785.4h.01M380.6 857.1h.01M393.3 777.6h.01M352.2 843.1h.01M382.6 773.6h.01M368 854.4h.01M388.3 775.1h.01M354.9 845.7h.01M406.5 825.6h.01M361 850.4h.01M394.4 778.8h.01M349.7 791.1h.01M395.4 779.8h.01M383.1 773.9h.01M378.9 773.8h.01M390.5 854.2h.01M402.9 839.3h.01M345.4 832h.01M386.3 855.8h.01M382.3 773.9h.01M402.4 790.1h.01M394.7 779.3h.01M398.6 847h.01M345.4 798.7h.01M405.9 828.5h.01M342.2 820.7h.01M342 811.7h.01M405.3 799.2h.01M346 797.7h.01M398.8 783.8h.01M356.3 784.1h.01M406.3 805.4h.01M343.7 826.7h.01M354.3 786h.01M405 832.4h.01M378.9 856.4h.01M347.8 836h.01M351.2 789.8h.01M387.2 775.3h.01M405 798.5h.01M404.1 835.2h.01M348.4 793.8h.01M382.2 774.3h.01M371.9 855h.01M399.6 785.5h.01M358.3 847.7h.01M390.1 853.9h.01M388 854.8h.01M342.3 816.2h.01M355.1 844.8h.01M396.5 781.7h.01M404.4 833.6h.01M405.9 826.3h.01M406.7 817.6h.01M353.7 787.4h.01M360.7 781.3h.01M378.2 855.8h.01M394.1 779.6h.01M381.1 774.7h.01M392.6 778.5h.01M402.3 839.1h.01M405.6 827.3h.01M362.8 780.1h.01M398.2 846.4h.01M345 828.2h.01M370.9 776.4h.01M399.4 786h.01M359.7 848h.01M404.6 831.6h.01M398.9 845.2h.01M364.5 779.3h.01M369.7 853.6h.01M404.8 799.9h.01M358.7 783.4h.01M400.8 841.8h.01M343.6 821.5h.01M385.6 775.8h.01M375.8 855h.01M350.7 792.2h.01M355.7 844.2h.01M349.1 794.8h.01M406 821.5h.01M406.1 809.8h.01M404.8 800.9h.01M345.1 803.7h.01M406 808.8h.01M385.8 776.1h.01M343.8 809h.01M406.1 820.6h.01M360.3 782.5h.01M344 808.5h.01M403.9 833.2h.01M405.8 807.4h.01M399 786.1h.01M361.2 848.5h.01M386.7 854h.01M400.5 841.8h.01M402.9 794.3h.01M354.4 788.2h.01M405.5 805.6h.01M351.8 791.2h.01M389.1 853h.01M350.3 793.4h.01M406 810.8h.01M403.4 834.6h.01M374.4 776.2h.01M399.6 787.4h.01M370.5 853.2h.01M390.2 778.1h.01M369.2 777.9h.01M373.5 776.5h.01M406.1 815.7h.01M395.6 782.4h.01M404.7 829h.01M358.9 846.2h.01M405.4 824.6h.01M349.9 836h.01M379 854.6h.01M380.1 775.9h.01M396.3 783.3h.01M395.1 782h.01M403.6 797.7h.01M400.5 789.5h.01M344.1 817.6h.01M395.4 848.1h.01M356.1 843.4h.01M377.8 854.3h.01M352.9 839.8h.01M375.7 776.6h.01M393.2 780.6h.01M385 776.8h.01M405.2 824.1h.01M392.6 850.3h.01M392 779.8h.01M404.3 829.6h.01M345.4 824.3h.01M389.4 778.3h.01M381.4 854.2h.01M404.7 803.3h.01M346.4 802.9h.01M347.8 831h.01M405.6 818.6h.01M399.5 842.3h.01M344.5 816.1h.01M403 796.3h.01M344.8 819.9h.01M349.8 834.6h.01M359.9 846.2h.01M385.1 853.4h.01M369.3 851.8h.01M346 804.9h.01M384.1 853.6h.01M381.9 776.6h.01M398.8 843.1h.01M403.9 800h.01M353.7 790.5h.01M344.8 818.6h.01M350.3 835.1h.01M400.7 839.6h.01M358.9 785.3h.01M399.4 788.6h.01M402.7 834.4h.01M396.2 784.1h.01M357.6 844h.01M403.4 831.9h.01M344.8 817.2h.01M352.2 792.6h.01M363 782.3h.01M405.3 809.4h.01M345 819h.01M359.2 785.2h.01M394.5 848.1h.01M351.5 836.6h.01M394.7 782.6h.01M386.1 852.9h.01M385.1 853.1h.01M402.8 796.8h.01M347.5 801.7h.01M368.1 850.9h.01M388.3 852h.01M378.5 853.6h.01M352.2 792.9h.01M399.7 789.4h.01M380.9 853.6h.01M382.9 777.1h.01M355.6 788.8h.01M402.3 835.1h.01M377.9 853.4h.01M370.3 851.6h.01M377.4 853.3h.01M403.2 798.4h.01M359.7 785.1h.01M405.2 810.6h.01M355.9 841.7h.01M369.8 851.3h.01M346.5 824.9h.01M378.7 853.3h.01M345.8 809h.01M350.7 795.8h.01M357.8 843.6h.01M365.9 781.1h.01M357.1 787.7h.01M388.2 851.7h.01M376.3 853h.01M400.2 839.6h.01M400.4 839.1h.01M405.2 814.8h.01M383.3 777.5h.01M348.8 830.8h.01M404.7 806.9h.01M353.4 792h.01M402.6 833.4h.01M404.9 821.3h.01M363.9 782.4h.01M391.7 849.6h.01M389.8 850.8h.01M404.9 820.9h.01M398.9 788.7h.01M405.1 812.3h.01M350 832.9h.01M353.2 838h.01M378.5 777.5h.01M375.3 852.6h.01M393.7 782.5h.01M346 809.6h.01M381.3 777.5h.01M380.7 853h.01M365.8 849.1h.01M403.6 801h.01M364.1 782.5h.01M398.1 787.7h.01M391.2 780.8h.01M396.5 785.5h.01M378 852.8h.01M355.6 789.8h.01M399.6 790.2h.01M352.7 836.9h.01M348.8 830h.01M366.4 781.3h.01M355.3 840.3h.01M396.7 844.6h.01M348.4 829h.01M404 803.9h.01M397.1 786.4h.01M361.8 784.3h.01M380.7 852.7h.01M387.6 851.4h.01M361.5 784.6h.01M375.7 778.2h.01M346.1 819.4h.01M347.6 826.4h.01M350.1 798.2h.01M346.3 809.5h.01M357.4 842.3h.01M377.7 777.9h.01M354.1 838.6h.01M352.1 835.7h.01M346.6 808.4h.01M364.2 782.8h.01M356 840.8h.01M392.2 781.7h.01M388.7 850.8h.01M390.9 849.6h.01M404.5 807.9h.01M377.5 852.5h.01M398.3 788.5h.01M346.1 812.4h.01M393.3 847.8h.01M369.7 850.4h.01M404.6 809.2h.01M352.7 794.1h.01M401.7 834.7h.01M404.3 807.1h.01M360.9 845.2h.01M383.2 852.3h.01M393.6 783.1h.01M382.5 852.3h.01M346.2 815.3h.01M347.4 824.5h.01M394.6 784h.01M392.7 848.1h.01M397.7 842.7h.01M404.8 814.7h.01M347 808h.01M396.4 844.4h.01M349.6 800h.01M403.7 803.6h.01M347.9 804.5h.01M356.6 789.5h.01M359.6 843.8h.01M404.7 814h.01M363.8 783.4h.01M352.5 835.6h.01M389.6 850h.01M386 851.4h.01M404.5 810.3h.01M346.6 818.9h.01M388 850.7h.01M404.7 815.9h.01M346.4 814.3h.01M347.1 822.3h.01M382.3 778.4h.01M404.6 816.7h.01M397.8 842.1h.01M380.3 778.4h.01M393.8 846.8h.01M352.4 795.3h.01M363.6 846.7h.01M347.9 805.6h.01M390.3 781.1h.01M347.1 808.9h.01M401.5 834.5h.01M401 835.7h.01M371.3 780.1h.01M367.4 781.8h.01M403.9 806.1h.01M388.5 780.3h.01M355.4 839.1h.01M349.6 829.5h.01M383.6 851.6h.01M386.3 779.5h.01M403.8 825.1h.01M380.6 778.6h.01M380.8 851.9h.01M385.8 851.1h.01M348.1 805.5h.01M351 832.2h.01M397.9 789h.01M371.4 850.3h.01M391.9 782.5h.01M359.5 843h.01M353.9 836.8h.01M396.7 787.3h.01M377.1 851.6h.01M402.3 831.5h.01M347.7 822.9h.01M365.4 783.1h.01M404.2 820h.01M400.2 837.1h.01M404.1 820.8h.01M395.2 785.6h.01M402.9 828.7h.01M363.3 784.6h.01M395.3 844.8h.01M404.3 818.9h.01M386.8 780h.01M347.3 811h.01M403.9 808h.01M372.2 850.3h.01M379.2 778.9h.01M403.7 806.2h.01M403.3 803.9h.01M371 780.6h.01M347.8 822.2h.01M403.5 825.4h.01M376.5 851.3h.01M378.3 779h.01M402.9 828.6h.01M403 802.7h.01M398 789.5h.01M347.2 813.9h.01M396 843.7h.01M349.1 826.9h.01M357.2 840.4h.01M396.5 843.1h.01M398.9 791.2h.01M377.2 779.2h.01M350.2 801h.01M399 839.2h.01M393.1 846.6h.01M352.6 834.2h.01M395.3 844.4h.01M369.3 849h.01M348.3 806.8h.01M378.5 851.3h.01M347.3 814.7h.01M404.1 811.8h.01M364.7 784h.01M401.4 797.2h.01M404.1 812.9h.01M347.9 809h.01M399.7 793h.01M401.1 796.3h.01M362.3 844.6h.01M389 849.1h.01M350.1 802h.01M377.5 779.5h.01M348.5 823.3h.01M396.7 842.2h.01M374.6 780.1h.01M349 805.3h.01M363.1 785.5h.01M374.4 850.4h.01M387.2 849.7h.01M359 788.9h.01M385.6 850.2h.01M381.4 851h.01M358.6 841.1h.01M404 816.9h.01M374.3 780.2h.01M398 840.3h.01M354.5 794.3h.01M403 804.3h.01M348 810.9h.01M399.4 792.9h.01M371.4 849.4h.01M402.7 802.9h.01M357.3 790.9h.01M350.6 801.4h.01M385.4 780.4h.01M398.7 838.9h.01M400.2 795h.01M387.1 849.5h.01M352.9 797h.01M348.2 810h.01M396.7 788.6h.01M401.9 830.6h.01M363.7 785.3h.01M402.6 802.7h.01M349 824h.01M395.8 787.3h.01M355.1 836.7h.01M403.9 813.7h.01M401.4 798.3h.01M355.8 792.8h.01M387.9 781.3h.01M350.2 802.7h.01M388.4 848.9h.01M402.1 829.8h.01M376.7 780h.01M403.4 807.9h.01M398.7 838.6h.01M387 849.4h.01M373.6 780.7h.01M390.3 782.7h.01M360.3 788.2h.01M377.2 780.1h.01M389.9 782.5h.01M391.1 847.3h.01M403.1 824.5h.01M348.1 814.7h.01M356.9 791.8h.01M383.4 850.3h.01M374.2 849.8h.01M349.2 823.7h.01M357.4 839.2h.01M384.1 850.1h.01M393.4 785.2h.01M393.1 845.6h.01M348.3 817.8h.01M399.7 836.2h.01M348.2 816h.01M396.6 788.9h.01M350 804.2h.01M399.7 794.5h.01M377.6 780.2h.01M364.3 785.3h.01M374.8 849.8h.01M392.7 845.8h.01M391.2 783.6h.01M352.1 831h.01M400.8 797.3h.01M385.5 780.9h.01M379.9 780.2h.01M378.8 850.3h.01M381.7 850.2h.01M348.4 815h.01M390.9 847h.01M358 791h.01M375.8 780.6h.01M395.4 787.5h.01M348.6 811.8h.01M387.1 848.9h.01M392.1 784.4h.01M351.5 800.9h.01M380.3 850.2h.01M348.6 818.5h.01M399.4 836.5h.01M374.7 780.9h.01M368.5 847.3h.01M403.3 809.4h.01M394.4 843.9h.01M402.5 826.1h.01M365.5 845.6h.01M350 805.2h.01M387.7 848.6h.01M403 822.8h.01M376.1 780.7h.01M351.3 801.7h.01M395.8 842.2h.01M373.8 849.3h.01M393.6 844.7h.01M401.1 831.6h.01M354.9 835.2h.01M402.6 805h.01M349.6 806.9h.01M353.7 797h.01M380.1 850.1h.01M379.3 850h.01M352 830.2h.01M378.7 850h.01M359 790.2h.01M389.4 782.8h.01M358 791.4h.01M352 800.5h.01M379.5 780.5h.01M349 819.6h.01M363.5 786.4h.01M397.4 839.8h.01M365.8 784.9h.01M390.6 783.7h.01M373.1 781.6h.01M398.1 792h.01M352.3 830.4h.01M359.6 789.9h.01M384.7 781.2h.01M400.8 832.2h.01M368.6 783.5h.01M370.1 847.7h.01M397.3 790.8h.01M350.7 826.3h.01M353.4 798.1h.01M362.9 787.1h.01M397.6 839.3h.01M384.3 849.4h.01M351.9 829.3h.01M394.5 843.4h.01M371 848h.01M351 803.5h.01M397.9 838.6h.01M351 827.1h.01M377.4 780.9h.01M349.3 810.5h.01M367.2 846.1h.01M356.1 794.2h.01M403 821.5h.01M352.6 830.7h.01M364 844.1h.01M387.6 848.2h.01M389.2 847.4h.01M349.5 809.8h.01M353.5 832h.01M381.5 781h.01M374.9 848.9h.01M402.5 806.2h.01M349.2 815.8h.01M372.2 848.1h.01M385.1 781.7h.01M357.9 838.3h.01M356.3 836.2h.01M357.7 792.6h.01M369.2 846.8h.01M352.9 800h.01M392.3 845h.01M362 788.4h.01M390.6 846.2h.01M401.3 801.1h.01M375.4 781.7h.01M403.1 816.4h.01M353.8 832h.01M382.8 849.1h.01M384.2 848.9h.01M349.5 813.2h.01M351.1 825.9h.01M399.1 835.6h.01M399.2 835.3h.01M373.9 848.4h.01M399.8 833.9h.01M391.5 785.1h.01M392.9 786.3h.01M367.3 845.6h.01M363.2 842.8h.01M368.4 784.4h.01M351.1 825.3h.01M359.4 839.2h.01M349.8 817.9h.01M372.3 782.9h.01M401.1 829h.01M361 840.6h.01M402.5 821.1h.01M385 848.3h.01M395.3 789.2h.01M350.2 820.3h.01M354.8 797.6h.01M350.7 822.8h.01M354.5 832.2h.01M366.6 844.7h.01M350.9 807.6h.01M370.3 784h.01M382.2 848.5h.01M355.4 797.1h.01M398.6 795.2h.01M382.2 782.1h.01M395.6 840.4h.01M380.7 848.4h.01M400.4 800.1h.01M375.7 847.7h.01M386.9 783.7h.01M400.9 827.6h.01M378.6 848h.01M402 819h.01M363 840.8h.01M306.3 801.2h.01M374.3 877.1h.01M329.3 846.8h.01" stroke="#0d0d0d" stroke-width="2.9" stroke-linecap="round" fill="none"/>
<path d="M170.7 751.5V932.6H496" stroke="#000" stroke-width="2.2" fill="none" stroke-linejoin="miter"/>
<path d="M170.7 758.5h-6.8M170.7 780.3h-6.8M170.7 798.9h-6.8M170.7 817.2h-6.8M170.7 836.7h-6.8M170.7 855h-6.8M170.7 873.2h-6.8M170.7 892.7h-6.8M170.7 910.8h-6.8M170.7 927.9h-6.8M173.7 932.6v7.4M191.2 932.6v7.4M208.8 932.6v7.4M226.3 932.6v7.4M243.8 932.6v7.4M261.4 932.6v7.4M278.9 932.6v7.4M296.4 932.6v7.4M313.9 932.6v7.4M331.5 932.6v7.4M349 932.6v7.4M366.5 932.6v7.4M384.1 932.6v7.4M401.6 932.6v7.4M419.1 932.6v7.4M436.7 932.6v7.4M454.2 932.6v7.4M471.7 932.6v7.4M489.2 932.6v7.4" stroke="#000" stroke-width="2.15" fill="none"/>
<text x="95.92" y="763.7" font-family="Liberation Sans, sans-serif" font-size="17.1" textLength="59.23" lengthAdjust="spacingAndGlyphs">10,000</text>
<text x="88.32" y="782.5" font-family="Liberation Sans, sans-serif" font-size="17.1" textLength="66.85" lengthAdjust="spacingAndGlyphs">-50,000</text>
<text x="77.02" y="801.3" font-family="Liberation Sans, sans-serif" font-size="17.1" textLength="78.15" lengthAdjust="spacingAndGlyphs">-100,000</text>
<text x="77.02" y="820.1" font-family="Liberation Sans, sans-serif" font-size="17.1" textLength="78.15" lengthAdjust="spacingAndGlyphs">-150,000</text>
<text x="77.02" y="838.9" font-family="Liberation Sans, sans-serif" font-size="17.1" textLength="78.15" lengthAdjust="spacingAndGlyphs">-200,000</text>
<text x="77.02" y="857.7" font-family="Liberation Sans, sans-serif" font-size="17.1" textLength="78.15" lengthAdjust="spacingAndGlyphs">-250,000</text>
<text x="77.02" y="876.5" font-family="Liberation Sans, sans-serif" font-size="17.1" textLength="78.15" lengthAdjust="spacingAndGlyphs">-300,000</text>
<text x="77.02" y="895.3" font-family="Liberation Sans, sans-serif" font-size="17.1" textLength="78.15" lengthAdjust="spacingAndGlyphs">-350,000</text>
<text x="77.02" y="914.1" font-family="Liberation Sans, sans-serif" font-size="17.1" textLength="78.15" lengthAdjust="spacingAndGlyphs">-400,000</text>
<text x="77.02" y="932.9" font-family="Liberation Sans, sans-serif" font-size="17.1" textLength="78.15" lengthAdjust="spacingAndGlyphs">-450,000</text>
<text x="151.73" y="963.9" font-family="Liberation Sans, sans-serif" font-size="17.1" textLength="44.64" lengthAdjust="spacingAndGlyphs">-0.80</text>
<text x="221.78" y="963.9" font-family="Liberation Sans, sans-serif" font-size="17.1" textLength="44.64" lengthAdjust="spacingAndGlyphs">-0.60</text>
<text x="291.83" y="963.9" font-family="Liberation Sans, sans-serif" font-size="17.1" textLength="44.64" lengthAdjust="spacingAndGlyphs">-0.40</text>
<text x="361.88" y="963.9" font-family="Liberation Sans, sans-serif" font-size="17.1" textLength="44.64" lengthAdjust="spacingAndGlyphs">-0.20</text>
<text x="431.93" y="963.9" font-family="Liberation Sans, sans-serif" font-size="17.1" textLength="44.64" lengthAdjust="spacingAndGlyphs">-0.00</text>
<text x="215.84" y="995.7" font-family="Liberation Sans, sans-serif" font-size="24" textLength="82.62" lengthAdjust="spacingAndGlyphs" stroke="#111" stroke-width="0.2">Incremental</text>
<text x="216.44" y="995.7" font-family="Liberation Sans, sans-serif" font-size="24" textLength="82.62" lengthAdjust="spacingAndGlyphs" stroke="#111" stroke-width="0.2">Incremental</text>
<text x="305.44" y="995.7" font-family="Liberation Sans, sans-serif" font-size="24" textLength="90.32" lengthAdjust="spacingAndGlyphs" stroke="#111" stroke-width="0.2">effectiveness</text>
<text x="306.04" y="995.7" font-family="Liberation Sans, sans-serif" font-size="24" textLength="90.32" lengthAdjust="spacingAndGlyphs" stroke="#111" stroke-width="0.2">effectiveness</text>
<text x="402.73" y="995.7" font-family="Liberation Sans, sans-serif" font-size="24" textLength="46.63" lengthAdjust="spacingAndGlyphs" stroke="#111" stroke-width="0.2">(QALY)</text>
<text x="403.33" y="995.7" font-family="Liberation Sans, sans-serif" font-size="24" textLength="46.63" lengthAdjust="spacingAndGlyphs" stroke="#111" stroke-width="0.2">(QALY)</text>
<text transform="translate(64.6 925.2) rotate(-90)" x="-1.48" y="0" font-family="Liberation Sans, sans-serif" font-size="24" textLength="84.06" lengthAdjust="spacingAndGlyphs" stroke="#111" stroke-width="0.2">Incremental</text>
<text transform="translate(64.6 925.2) rotate(-90)" x="-0.88" y="0" font-family="Liberation Sans, sans-serif" font-size="24" textLength="84.06" lengthAdjust="spacingAndGlyphs" stroke="#111" stroke-width="0.2">Incremental</text>
<text transform="translate(64.6 836.6) rotate(-90)" x="-0.67" y="0" font-family="Liberation Sans, sans-serif" font-size="24" textLength="29.09" lengthAdjust="spacingAndGlyphs" stroke="#111" stroke-width="0.2">cost</text>
<text transform="translate(64.6 836.6) rotate(-90)" x="-0.07" y="0" font-family="Liberation Sans, sans-serif" font-size="24" textLength="29.09" lengthAdjust="spacingAndGlyphs" stroke="#111" stroke-width="0.2">cost</text>
<text transform="translate(64.6 800.8) rotate(-90)" x="-0.94" y="0" font-family="Liberation Sans, sans-serif" font-size="24" textLength="42.29" lengthAdjust="spacingAndGlyphs" stroke="#111" stroke-width="0.2">(USD)</text>
<text transform="translate(64.6 800.8) rotate(-90)" x="-0.34" y="0" font-family="Liberation Sans, sans-serif" font-size="24" textLength="42.29" lengthAdjust="spacingAndGlyphs" stroke="#111" stroke-width="0.2">(USD)</text>
<path d="M0 0H520V1019H0ZM2.3 2.05V1016.4H517.6V2.05Z" fill="#101010" fill-rule="evenodd"/>
</svg></body></html>
